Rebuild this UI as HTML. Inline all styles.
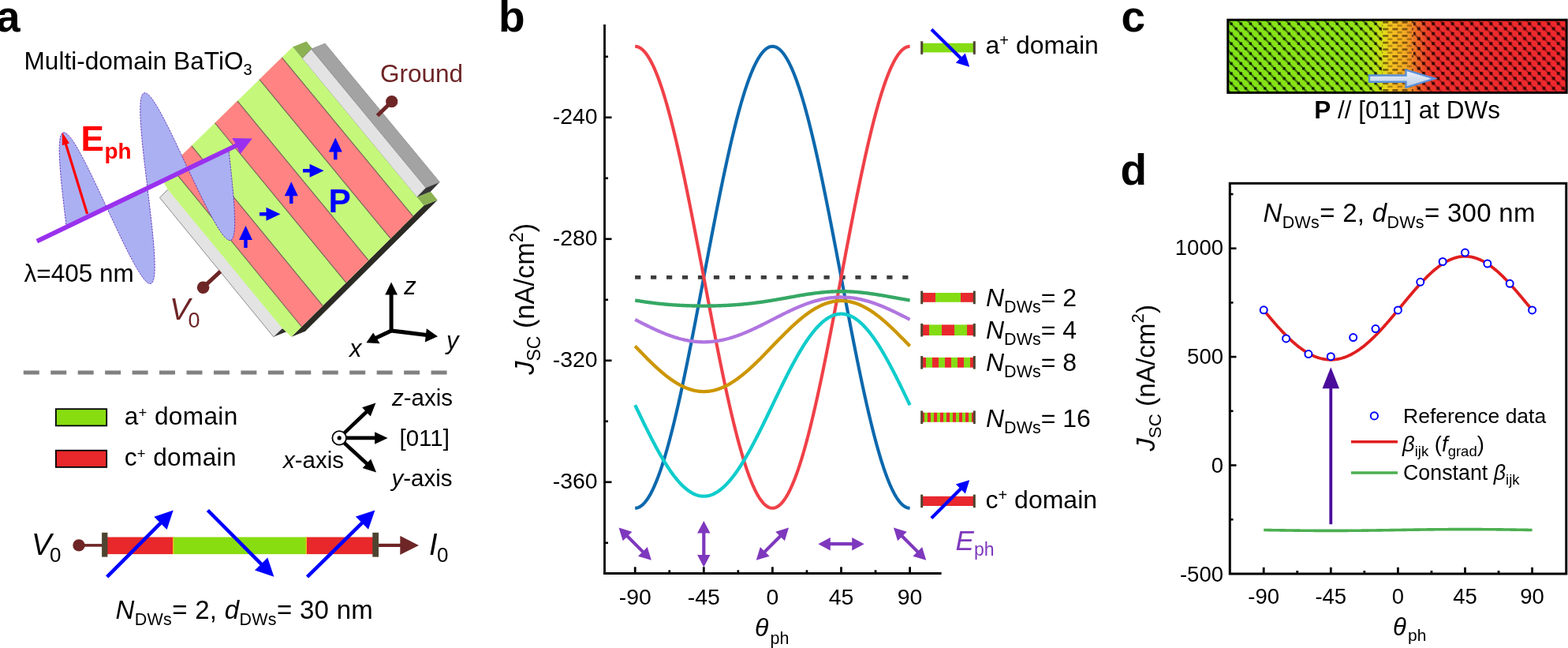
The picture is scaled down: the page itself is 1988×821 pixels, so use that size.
<!DOCTYPE html>
<html><head><meta charset="utf-8"><title>Figure</title>
<style>html,body{margin:0;padding:0;background:#fff;overflow:hidden;width:1988px;height:821px;} svg{display:block;}</style>
</head><body>
<svg width="1988" height="821" viewBox="0 0 1988 821" font-family="'Liberation Sans', Arial, Helvetica, sans-serif">
<rect x="0" y="0" width="1988" height="821" fill="#fff"/>
<text x="-4.90" y="39.80" font-size="55" fill="#000" text-anchor="start" font-weight="bold" font-style="normal" >a</text>
<text x="30.50" y="87.80" font-size="31.6" fill="#000" text-anchor="start" font-weight="normal" font-style="normal" >Multi-domain BaTiO<tspan font-size='20' dy='7'>3</tspan></text>
<polygon points="369.50,426.80 537.20,260.40 554.70,253.40 387.00,419.80" fill="#2b2a24" />
<polygon points="371.00,59.50 383.13,74.17 400.63,67.17 388.50,52.50" fill="#8bb152" />
<polygon points="528.39,249.75 537.20,260.40 554.70,253.40 545.89,242.75" fill="#8bb152" />
<polygon points="528.39,249.75 539.89,237.75 557.39,230.75 545.89,242.75" fill="#353535" />
<polygon points="394.63,62.17 539.89,237.75 557.39,230.75 412.13,55.17" fill="#a3a3a3" stroke="#8a8a8a" stroke-width="0.8"/>
<polygon points="383.13,74.17 528.39,249.75 539.89,237.75 394.63,62.17" fill="#e3e3e3" stroke="#8a8a8a" stroke-width="0.8"/>
<polygon points="357.30,416.80 346.80,426.80 364.30,419.80 374.80,409.80" fill="#2e2e2e" />
<polygon points="218.90,234.30 363.30,410.80 357.30,416.80 346.80,426.80 202.40,250.30 212.90,240.30" fill="#e3e3e3" />
<polyline points="357.30,416.80 346.80,426.80 202.40,250.30 212.90,240.30" fill="none" stroke="#8a8a8a" stroke-width="1"/>
<defs><clipPath id="slabclip"><polygon points="203.00,223.50 371.00,59.50 537.20,260.40 369.50,426.80 358.20,416.20 212.90,240.30"/></clipPath></defs>
<polygon points="203.00,223.50 371.00,59.50 537.20,260.40 369.50,426.80 358.20,416.20 212.90,240.30" fill="#c5f87a" />
<polygon points="392.40,426.17 419.23,399.55 232.83,172.45 205.95,198.69" fill="#ff8383" clip-path="url(#slabclip)"/>
<polygon points="448.74,370.22 477.25,341.93 290.96,115.75 262.40,143.63" fill="#ff8383" clip-path="url(#slabclip)"/>
<polygon points="505.08,314.26 533.59,285.97 347.42,60.69 318.86,88.57" fill="#ff8383" clip-path="url(#slabclip)"/>
<line x1="382.41" y1="413.99" x2="215.94" y2="210.87" stroke="#4a4a4a" stroke-width="1.1" stroke-opacity="0.75" clip-path="url(#slabclip)"/>
<line x1="409.24" y1="387.36" x2="242.82" y2="184.63" stroke="#4a4a4a" stroke-width="1.1" stroke-opacity="0.75" clip-path="url(#slabclip)"/>
<line x1="438.76" y1="358.08" x2="272.38" y2="155.77" stroke="#4a4a4a" stroke-width="1.1" stroke-opacity="0.75" clip-path="url(#slabclip)"/>
<line x1="467.27" y1="329.79" x2="300.94" y2="127.89" stroke="#4a4a4a" stroke-width="1.1" stroke-opacity="0.75" clip-path="url(#slabclip)"/>
<line x1="495.11" y1="302.17" x2="328.83" y2="100.66" stroke="#4a4a4a" stroke-width="1.1" stroke-opacity="0.75" clip-path="url(#slabclip)"/>
<line x1="523.62" y1="273.88" x2="357.39" y2="72.78" stroke="#4a4a4a" stroke-width="1.1" stroke-opacity="0.75" clip-path="url(#slabclip)"/>
<line x1="478.5" y1="146.5" x2="496.7" y2="128.7" stroke="#6e2526" stroke-width="5"/>
<circle cx="496.7" cy="128.7" r="7.6" fill="#6e2526"/>
<line x1="279.5" y1="343.8" x2="257.6" y2="364.2" stroke="#6e2526" stroke-width="5"/>
<circle cx="257.6" cy="364.2" r="7.8" fill="#6e2526"/>
<text x="482.00" y="103.80" font-size="31.5" fill="#6e2526" text-anchor="start" font-weight="normal" font-style="normal" >Ground</text>
<text x="215" y="405.1" font-size="39" fill="#6e2526" font-style="italic">V</text>
<text x="238.5" y="415.2" font-size="27" fill="#6e2526">0</text>
<polygon points="313.70,313.90 313.70,304.00 320.00,304.00 311.50,286.00 303.00,304.00 309.30,304.00 309.30,313.90" fill="#0000ff" />
<polygon points="371.50,258.10 371.50,248.20 377.80,248.20 369.30,230.20 360.80,248.20 367.10,248.20 367.10,258.10" fill="#0000ff" />
<polygon points="427.50,202.30 427.50,192.40 433.80,192.40 425.30,174.40 416.80,192.40 423.10,192.40 423.10,202.30" fill="#0000ff" />
<polygon points="329.00,273.50 337.50,273.50 337.50,279.80 355.50,271.30 337.50,262.80 337.50,269.10 329.00,269.10" fill="#0000ff" />
<polygon points="384.10,218.50 392.60,218.50 392.60,224.80 410.60,216.30 392.60,207.80 392.60,214.10 384.10,214.10" fill="#0000ff" />
<text x="416.50" y="268.80" font-size="42.5" fill="#0000ff" text-anchor="start" font-weight="bold" font-style="normal" >P</text>
<polygon points="84.27,288.28 83.54,282.23 82.82,276.19 82.11,270.18 81.41,264.22 80.73,258.32 80.07,252.49 79.43,246.76 78.83,241.13 78.25,235.63 77.72,230.25 77.23,225.03 76.78,219.97 76.38,215.08 76.03,210.37 75.74,205.87 75.51,201.57 75.34,197.49 75.23,193.64 75.19,190.04 75.22,186.67 75.32,183.57 75.50,180.73 75.75,178.16 76.08,175.86 76.48,173.85 76.97,172.12 77.54,170.68 78.19,169.53 78.92,168.68 79.74,168.12 80.64,167.86 81.62,167.89 82.68,168.22 83.83,168.84 85.05,169.75 86.36,170.94 87.74,172.41 89.21,174.17 90.75,176.19 92.36,178.47 94.04,181.01 95.80,183.80 97.62,186.83 99.50,190.08 101.45,193.56 103.45,197.25 105.51,201.13 107.63,205.20 109.79,209.44 112.00,213.85 114.24,218.40 116.53,223.08 118.85,227.89 121.20,232.80 123.57,237.81 125.97,242.89 128.38,248.03 130.81,253.22 133.24,258.44 135.68,263.67" fill="#abb0f2" stroke="#5a2db5" stroke-width="0.9" stroke-dasharray="2.5 1.2"/>
<polygon points="135.68,263.67 138.12,268.91 140.56,274.13 142.99,279.31 145.40,284.46 147.80,289.54 150.17,294.54 152.52,299.45 154.84,304.26 157.12,308.95 159.37,313.50 161.58,317.90 163.74,322.15 165.85,326.22 167.92,330.10 169.92,333.78 171.87,337.26 173.75,340.52 175.57,343.55 177.33,346.33 179.01,348.87 180.62,351.16 182.16,353.18 183.62,354.93 185.01,356.40 186.32,357.60 187.54,358.51 188.69,359.12 189.75,359.45 190.73,359.48 191.63,359.22 192.45,358.66 193.18,357.81 193.83,356.66 194.40,355.22 194.89,353.50 195.29,351.48 195.62,349.19 195.87,346.62 196.05,343.77 196.15,340.67 196.18,337.31 196.14,333.70 196.03,329.85 195.86,325.78 195.63,321.48 195.34,316.97 194.99,312.27 194.59,307.38 194.14,302.31 193.65,297.09 193.11,291.72 192.54,286.21 191.94,280.58 191.30,274.85 190.64,269.03 189.96,263.12 189.26,257.16 188.55,251.15 187.82,245.11 187.10,239.06" fill="#abb0f2" stroke="#5a2db5" stroke-width="0.9" stroke-dasharray="2.5 1.2"/>
<polygon points="187.10,239.06 186.36,232.95 185.62,226.86 184.90,220.81 184.18,214.79 183.49,208.84 182.81,202.97 182.16,197.19 181.54,191.52 180.96,185.96 180.41,180.55 179.91,175.28 179.45,170.17 179.04,165.24 178.68,160.50 178.38,155.96 178.14,151.63 177.95,147.52 177.84,143.64 177.79,140.00 177.81,136.62 177.91,133.49 178.08,130.62 178.32,128.03 178.65,125.72 179.05,123.69 179.53,121.95 180.10,120.50 180.75,119.35 181.48,118.49 182.30,117.93 183.19,117.67 184.18,117.71 185.24,118.04 186.39,118.67 187.62,119.59 188.93,120.80 190.32,122.29 191.79,124.06 193.33,126.10 194.95,128.41 196.64,130.98 198.40,133.79 200.23,136.85 202.13,140.14 204.08,143.65 206.10,147.38 208.17,151.30 210.30,155.41 212.47,159.69 214.69,164.14 216.95,168.74 219.25,173.47 221.58,178.32 223.94,183.28 226.33,188.33 228.74,193.46 231.17,198.65 233.61,203.89 236.06,209.16 238.51,214.45" fill="#abb0f2" stroke="#5a2db5" stroke-width="0.9" stroke-dasharray="2.5 1.2"/>
<polygon points="238.51,214.45 240.87,219.38 243.22,224.30 245.56,229.18 247.89,234.03 250.20,238.82 252.50,243.53 254.77,248.16 257.01,252.68 259.22,257.10 261.39,261.38 263.53,265.53 265.62,269.52 267.66,273.35 269.66,277.01 271.60,280.47 273.49,283.74 275.32,286.80 277.09,289.65 278.80,292.26 280.44,294.64 282.01,296.78 283.51,298.68 284.94,300.31 286.30,301.68 287.58,302.79 288.79,303.63 289.92,304.19 290.97,304.48 291.94,304.49 292.84,304.22 293.66,303.67 294.40,302.84 295.06,301.73 295.64,300.35 296.15,298.69 296.58,296.76 296.94,294.57 297.22,292.11 297.43,289.40 297.57,286.44 297.65,283.24 297.66,279.80 297.60,276.14 297.48,272.26 297.31,268.17 297.08,263.88 296.80,259.41 296.47,254.76 296.09,249.94 295.67,244.98 295.21,239.87 294.71,234.63 294.18,229.29 293.63,223.84 293.05,218.31 292.45,212.70 291.83,207.03 291.20,201.32 290.57,195.59 289.93,189.83" fill="#abb0f2" stroke="#5a2db5" stroke-width="0.9" stroke-dasharray="2.5 1.2"/>
<polygon points="112.13,270.53 85.03,182.32 88.04,181.40 78.80,167.50 78.96,184.19 81.97,183.26 109.07,271.47" fill="#ff0000" />
<text x="102.50" y="190.90" font-size="44" fill="#ff0000" text-anchor="start" font-weight="bold" font-style="normal" >E</text>
<text x="132.50" y="201.20" font-size="28" fill="#ff0000" text-anchor="start" font-weight="bold" font-style="normal" >ph</text>
<polygon points="48.1,308.2 45.6,302.9 298.5,181.7 294.3,175.1 319.9,175.5 304.5,195.3 300.8,187.1" fill="#9a30ee"/>
<text x="30.50" y="356.60" font-size="31.5" fill="#000" text-anchor="start" font-weight="normal" font-style="normal" >&#955;=405 nm</text>
<line x1="496.1" y1="419" x2="496.1" y2="372" stroke="#000" stroke-width="5"/>
<polygon points="496.1,357.5 504,373.5 488.2,373.5" fill="#000"/>
<line x1="496.1" y1="418.9" x2="541" y2="424.5" stroke="#000" stroke-width="5"/>
<polygon points="555,426.2 538.8,433.5 540.8,416.3" fill="#000"/>
<line x1="496.1" y1="418.9" x2="476" y2="428.5" stroke="#000" stroke-width="5"/>
<polygon points="464.4,434.3 473.2,421.4 481.6,435.2" fill="#000"/>
<text x="512.2" y="372.5" font-size="31" font-style="italic">z</text>
<text x="566" y="442.3" font-size="31" font-style="italic">y</text>
<text x="443" y="451.8" font-size="31" font-style="italic">x</text>
<line x1="29.8" y1="472" x2="568" y2="472" stroke="#808080" stroke-width="4.9" stroke-dasharray="20 14.45"/>
<rect x="70.9" y="518.2" width="64.3" height="21.2" fill="#88dd11" stroke="#000" stroke-width="1.8"/>
<rect x="70.9" y="570.7" width="64.3" height="21.2" fill="#e8282a" stroke="#000" stroke-width="1.8"/>
<text x="157.70" y="538.10" font-size="31.6" fill="#000" text-anchor="start" font-weight="normal" font-style="normal" letter-spacing="0.35">a<tspan font-size='18.5' dy='-9.5'>+</tspan><tspan dy='9.5'> domain</tspan></text>
<text x="157.70" y="590.20" font-size="31.6" fill="#000" text-anchor="start" font-weight="normal" font-style="normal" letter-spacing="0.35">c<tspan font-size='18.5' dy='-9.5'>+</tspan><tspan dy='9.5'> domain</tspan></text>
<circle cx="430.2" cy="554.9" r="8.8" fill="#fff" stroke="#000" stroke-width="1.8"/>
<circle cx="430.2" cy="554.9" r="2.6" fill="#000"/>
<polygon points="438.09,550.27 466.04,523.64 469.80,527.59 476.40,510.60 459.11,516.37 462.87,520.31 434.91,546.93" fill="#000" />
<polygon points="438.50,557.20 475.10,557.20 475.10,562.65 491.60,554.90 475.10,547.15 475.10,552.60 438.50,552.60" fill="#000" />
<polygon points="434.95,562.90 463.38,588.95 459.70,592.97 477.10,598.40 470.17,581.54 466.49,585.56 438.05,559.50" fill="#000" />
<text x="497" y="514" font-size="29.5"><tspan font-style="italic">z</tspan>-axis</text>
<text x="506.50" y="564.80" font-size="29.5" fill="#000" text-anchor="start" font-weight="normal" font-style="normal" >[011]</text>
<text x="496.5" y="615.5" font-size="29.5"><tspan font-style="italic">y</tspan>-axis</text>
<text x="359" y="592.8" font-size="29.5"><tspan font-style="italic">x</tspan>-axis</text>
<line x1="100" y1="690.9" x2="131" y2="690.9" stroke="#6e2526" stroke-width="3.6"/>
<circle cx="100" cy="690.9" r="7.7" fill="#6e2526"/>
<line x1="478" y1="690.9" x2="510" y2="690.9" stroke="#6e2526" stroke-width="4.2"/>
<polygon points="531,690.9 507.3,678.9 507.3,702.9" fill="#6e2526"/>
<rect x="135.6" y="680.5" width="83.6" height="21.6" fill="#e8282a"/>
<rect x="219.2" y="680.5" width="169.4" height="21.6" fill="#88dd11"/>
<rect x="388.6" y="680.5" width="84.5" height="21.6" fill="#e8282a"/>
<rect x="219" y="680.5" width="1.4" height="21.6" fill="#e8c020"/>
<rect x="387.6" y="680.5" width="1.4" height="21.6" fill="#e8c020"/>
<rect x="129.1" y="674.8" width="7.3" height="30.8" fill="#4d4430"/>
<rect x="472.3" y="674.8" width="7.7" height="30.8" fill="#4d4430"/>
<polygon points="137.33,732.42 205.09,664.42 211.61,670.91 219.70,646.50 195.32,654.68 201.84,661.17 134.07,729.18" fill="#0000ff" />
<polygon points="261.77,648.12 329.54,716.13 323.02,722.62 347.40,730.80 339.31,706.39 332.79,712.88 265.03,644.88" fill="#0000ff" />
<polygon points="391.11,732.44 460.60,664.25 467.04,670.82 475.40,646.50 450.93,654.40 457.37,660.97 387.89,729.16" fill="#0000ff" />
<text x="40" y="703" font-size="38" font-style="italic">V</text>
<text x="63" y="712" font-size="26">0</text>
<text x="544" y="703" font-size="38" font-style="italic">I</text>
<text x="554" y="712" font-size="26">0</text>
<text x="146.5" y="783.5" font-size="33" letter-spacing="0.3"><tspan font-style="italic">N</tspan><tspan font-size="21.5" dy="8">DWs</tspan><tspan dy="-8">= 2, </tspan><tspan font-style="italic">d</tspan><tspan font-size="21.5" dy="8">DWs</tspan><tspan dy="-8">= 30 nm</tspan></text>
<text x="632.00" y="39.80" font-size="55" fill="#000" text-anchor="start" font-weight="bold" font-style="normal" >b</text>
<path d="M805.20,643.80 L806.17,643.76 L807.14,643.62 L808.10,643.40 L809.07,643.09 L810.04,642.69 L811.01,642.20 L811.97,641.62 L812.94,640.95 L813.91,640.20 L814.88,639.36 L815.85,638.43 L816.81,637.41 L817.78,636.30 L818.75,635.11 L819.72,633.83 L820.68,632.47 L821.65,631.02 L822.62,629.48 L823.59,627.86 L824.56,626.16 L825.52,624.37 L826.49,622.50 L827.46,620.55 L828.43,618.51 L829.39,616.40 L830.36,614.20 L831.33,611.92 L832.30,609.56 L833.27,607.13 L834.23,604.61 L835.20,602.02 L836.17,599.35 L837.14,596.61 L838.10,593.79 L839.07,590.90 L840.04,587.94 L841.01,584.90 L841.98,581.79 L842.94,578.62 L843.91,575.37 L844.88,572.05 L845.85,568.67 L846.81,565.22 L847.78,561.71 L848.75,558.13 L849.72,554.49 L850.69,550.78 L851.65,547.02 L852.62,543.20 L853.59,539.32 L854.56,535.38 L855.52,531.38 L856.49,527.33 L857.46,523.23 L858.43,519.07 L859.40,514.86 L860.36,510.61 L861.33,506.30 L862.30,501.95 L863.27,497.55 L864.23,493.11 L865.20,488.62 L866.17,484.09 L867.14,479.52 L868.11,474.92 L869.07,470.27 L870.04,465.59 L871.01,460.87 L871.98,456.12 L872.94,451.34 L873.91,446.53 L874.88,441.69 L875.85,436.82 L876.82,431.92 L877.78,427.00 L878.75,422.06 L879.72,417.10 L880.69,412.11 L881.65,407.11 L882.62,402.09 L883.59,397.06 L884.56,392.01 L885.53,386.95 L886.49,381.87 L887.46,376.79 L888.43,371.70 L889.40,366.61 L890.36,361.51 L891.33,356.40 L892.30,351.30 L893.27,346.20 L894.24,341.09 L895.20,335.99 L896.17,330.90 L897.14,325.81 L898.11,320.73 L899.07,315.65 L900.04,310.59 L901.01,305.54 L901.98,300.51 L902.95,295.49 L903.91,290.49 L904.88,285.50 L905.85,280.54 L906.82,275.60 L907.78,270.68 L908.75,265.78 L909.72,260.91 L910.69,256.07 L911.66,251.26 L912.62,246.48 L913.59,241.73 L914.56,237.01 L915.53,232.33 L916.49,227.68 L917.46,223.08 L918.43,218.51 L919.40,213.98 L920.37,209.49 L921.33,205.05 L922.30,200.65 L923.27,196.30 L924.24,191.99 L925.20,187.74 L926.17,183.53 L927.14,179.37 L928.11,175.27 L929.08,171.22 L930.04,167.22 L931.01,163.28 L931.98,159.40 L932.95,155.58 L933.91,151.82 L934.88,148.11 L935.85,144.47 L936.82,140.89 L937.79,137.38 L938.75,133.93 L939.72,130.55 L940.69,127.23 L941.66,123.98 L942.62,120.81 L943.59,117.70 L944.56,114.66 L945.53,111.70 L946.50,108.81 L947.46,105.99 L948.43,103.25 L949.40,100.58 L950.37,97.99 L951.33,95.47 L952.30,93.04 L953.27,90.68 L954.24,88.40 L955.21,86.20 L956.17,84.09 L957.14,82.05 L958.11,80.10 L959.08,78.23 L960.04,76.44 L961.01,74.74 L961.98,73.12 L962.95,71.58 L963.92,70.13 L964.88,68.77 L965.85,67.49 L966.82,66.30 L967.79,65.19 L968.75,64.17 L969.72,63.24 L970.69,62.40 L971.66,61.65 L972.63,60.98 L973.59,60.40 L974.56,59.91 L975.53,59.51 L976.50,59.20 L977.46,58.98 L978.43,58.84 L979.40,58.80 L980.37,58.84 L981.34,58.98 L982.30,59.20 L983.27,59.51 L984.24,59.91 L985.21,60.40 L986.17,60.98 L987.14,61.65 L988.11,62.40 L989.08,63.24 L990.05,64.17 L991.01,65.19 L991.98,66.30 L992.95,67.49 L993.92,68.77 L994.88,70.13 L995.85,71.58 L996.82,73.12 L997.79,74.74 L998.76,76.44 L999.72,78.23 L1000.69,80.10 L1001.66,82.05 L1002.63,84.09 L1003.59,86.20 L1004.56,88.40 L1005.53,90.68 L1006.50,93.04 L1007.47,95.47 L1008.43,97.99 L1009.40,100.58 L1010.37,103.25 L1011.34,105.99 L1012.30,108.81 L1013.27,111.70 L1014.24,114.66 L1015.21,117.70 L1016.18,120.81 L1017.14,123.98 L1018.11,127.23 L1019.08,130.55 L1020.05,133.93 L1021.01,137.38 L1021.98,140.89 L1022.95,144.47 L1023.92,148.11 L1024.89,151.82 L1025.85,155.58 L1026.82,159.40 L1027.79,163.28 L1028.76,167.22 L1029.72,171.22 L1030.69,175.27 L1031.66,179.37 L1032.63,183.53 L1033.60,187.74 L1034.56,191.99 L1035.53,196.30 L1036.50,200.65 L1037.47,205.05 L1038.43,209.49 L1039.40,213.98 L1040.37,218.51 L1041.34,223.08 L1042.31,227.68 L1043.27,232.33 L1044.24,237.01 L1045.21,241.73 L1046.18,246.48 L1047.14,251.26 L1048.11,256.07 L1049.08,260.91 L1050.05,265.78 L1051.02,270.68 L1051.98,275.60 L1052.95,280.54 L1053.92,285.50 L1054.89,290.49 L1055.85,295.49 L1056.82,300.51 L1057.79,305.54 L1058.76,310.59 L1059.73,315.65 L1060.69,320.73 L1061.66,325.81 L1062.63,330.90 L1063.60,335.99 L1064.56,341.09 L1065.53,346.20 L1066.50,351.30 L1067.47,356.40 L1068.44,361.51 L1069.40,366.61 L1070.37,371.70 L1071.34,376.79 L1072.31,381.87 L1073.27,386.95 L1074.24,392.01 L1075.21,397.06 L1076.18,402.09 L1077.15,407.11 L1078.11,412.11 L1079.08,417.10 L1080.05,422.06 L1081.02,427.00 L1081.98,431.92 L1082.95,436.82 L1083.92,441.69 L1084.89,446.53 L1085.86,451.34 L1086.82,456.12 L1087.79,460.87 L1088.76,465.59 L1089.73,470.27 L1090.69,474.92 L1091.66,479.52 L1092.63,484.09 L1093.60,488.62 L1094.57,493.11 L1095.53,497.55 L1096.50,501.95 L1097.47,506.30 L1098.44,510.61 L1099.40,514.86 L1100.37,519.07 L1101.34,523.23 L1102.31,527.33 L1103.28,531.38 L1104.24,535.38 L1105.21,539.32 L1106.18,543.20 L1107.15,547.02 L1108.11,550.78 L1109.08,554.49 L1110.05,558.13 L1111.02,561.71 L1111.99,565.22 L1112.95,568.67 L1113.92,572.05 L1114.89,575.37 L1115.86,578.62 L1116.82,581.79 L1117.79,584.90 L1118.76,587.94 L1119.73,590.90 L1120.70,593.79 L1121.66,596.61 L1122.63,599.35 L1123.60,602.02 L1124.57,604.61 L1125.53,607.13 L1126.50,609.56 L1127.47,611.92 L1128.44,614.20 L1129.41,616.40 L1130.37,618.51 L1131.34,620.55 L1132.31,622.50 L1133.28,624.37 L1134.24,626.16 L1135.21,627.86 L1136.18,629.48 L1137.15,631.02 L1138.12,632.47 L1139.08,633.83 L1140.05,635.11 L1141.02,636.30 L1141.99,637.41 L1142.95,638.43 L1143.92,639.36 L1144.89,640.20 L1145.86,640.95 L1146.83,641.62 L1147.79,642.20 L1148.76,642.69 L1149.73,643.09 L1150.70,643.40 L1151.66,643.62 L1152.63,643.76 L1153.60,643.80" fill="none" stroke="#0c68ad" stroke-width="4.1" stroke-linejoin="round" stroke-linecap="butt"/>
<line x1="805.1" y1="351.4" x2="1152" y2="351.4" stroke="#3c3c3c" stroke-width="4.6" stroke-dasharray="7.2 12.75"/>
<path d="M805.20,58.80 L806.17,58.84 L807.14,58.98 L808.10,59.20 L809.07,59.51 L810.04,59.91 L811.01,60.40 L811.97,60.98 L812.94,61.65 L813.91,62.40 L814.88,63.24 L815.85,64.17 L816.81,65.19 L817.78,66.30 L818.75,67.49 L819.72,68.77 L820.68,70.13 L821.65,71.58 L822.62,73.12 L823.59,74.74 L824.56,76.44 L825.52,78.23 L826.49,80.10 L827.46,82.05 L828.43,84.09 L829.39,86.20 L830.36,88.40 L831.33,90.68 L832.30,93.04 L833.27,95.47 L834.23,97.99 L835.20,100.58 L836.17,103.25 L837.14,105.99 L838.10,108.81 L839.07,111.70 L840.04,114.66 L841.01,117.70 L841.98,120.81 L842.94,123.98 L843.91,127.23 L844.88,130.55 L845.85,133.93 L846.81,137.38 L847.78,140.89 L848.75,144.47 L849.72,148.11 L850.69,151.82 L851.65,155.58 L852.62,159.40 L853.59,163.28 L854.56,167.22 L855.52,171.22 L856.49,175.27 L857.46,179.37 L858.43,183.53 L859.40,187.74 L860.36,191.99 L861.33,196.30 L862.30,200.65 L863.27,205.05 L864.23,209.49 L865.20,213.98 L866.17,218.51 L867.14,223.08 L868.11,227.68 L869.07,232.33 L870.04,237.01 L871.01,241.73 L871.98,246.48 L872.94,251.26 L873.91,256.07 L874.88,260.91 L875.85,265.78 L876.82,270.68 L877.78,275.60 L878.75,280.54 L879.72,285.50 L880.69,290.49 L881.65,295.49 L882.62,300.51 L883.59,305.54 L884.56,310.59 L885.53,315.65 L886.49,320.73 L887.46,325.81 L888.43,330.90 L889.40,335.99 L890.36,341.09 L891.33,346.20 L892.30,351.30 L893.27,356.40 L894.24,361.51 L895.20,366.61 L896.17,371.70 L897.14,376.79 L898.11,381.87 L899.07,386.95 L900.04,392.01 L901.01,397.06 L901.98,402.09 L902.95,407.11 L903.91,412.11 L904.88,417.10 L905.85,422.06 L906.82,427.00 L907.78,431.92 L908.75,436.82 L909.72,441.69 L910.69,446.53 L911.66,451.34 L912.62,456.12 L913.59,460.87 L914.56,465.59 L915.53,470.27 L916.49,474.92 L917.46,479.52 L918.43,484.09 L919.40,488.62 L920.37,493.11 L921.33,497.55 L922.30,501.95 L923.27,506.30 L924.24,510.61 L925.20,514.86 L926.17,519.07 L927.14,523.23 L928.11,527.33 L929.08,531.38 L930.04,535.38 L931.01,539.32 L931.98,543.20 L932.95,547.02 L933.91,550.78 L934.88,554.49 L935.85,558.13 L936.82,561.71 L937.79,565.22 L938.75,568.67 L939.72,572.05 L940.69,575.37 L941.66,578.62 L942.62,581.79 L943.59,584.90 L944.56,587.94 L945.53,590.90 L946.50,593.79 L947.46,596.61 L948.43,599.35 L949.40,602.02 L950.37,604.61 L951.33,607.13 L952.30,609.56 L953.27,611.92 L954.24,614.20 L955.21,616.40 L956.17,618.51 L957.14,620.55 L958.11,622.50 L959.08,624.37 L960.04,626.16 L961.01,627.86 L961.98,629.48 L962.95,631.02 L963.92,632.47 L964.88,633.83 L965.85,635.11 L966.82,636.30 L967.79,637.41 L968.75,638.43 L969.72,639.36 L970.69,640.20 L971.66,640.95 L972.63,641.62 L973.59,642.20 L974.56,642.69 L975.53,643.09 L976.50,643.40 L977.46,643.62 L978.43,643.76 L979.40,643.80 L980.37,643.76 L981.34,643.62 L982.30,643.40 L983.27,643.09 L984.24,642.69 L985.21,642.20 L986.17,641.62 L987.14,640.95 L988.11,640.20 L989.08,639.36 L990.05,638.43 L991.01,637.41 L991.98,636.30 L992.95,635.11 L993.92,633.83 L994.88,632.47 L995.85,631.02 L996.82,629.48 L997.79,627.86 L998.76,626.16 L999.72,624.37 L1000.69,622.50 L1001.66,620.55 L1002.63,618.51 L1003.59,616.40 L1004.56,614.20 L1005.53,611.92 L1006.50,609.56 L1007.47,607.13 L1008.43,604.61 L1009.40,602.02 L1010.37,599.35 L1011.34,596.61 L1012.30,593.79 L1013.27,590.90 L1014.24,587.94 L1015.21,584.90 L1016.18,581.79 L1017.14,578.62 L1018.11,575.37 L1019.08,572.05 L1020.05,568.67 L1021.01,565.22 L1021.98,561.71 L1022.95,558.13 L1023.92,554.49 L1024.89,550.78 L1025.85,547.02 L1026.82,543.20 L1027.79,539.32 L1028.76,535.38 L1029.72,531.38 L1030.69,527.33 L1031.66,523.23 L1032.63,519.07 L1033.60,514.86 L1034.56,510.61 L1035.53,506.30 L1036.50,501.95 L1037.47,497.55 L1038.43,493.11 L1039.40,488.62 L1040.37,484.09 L1041.34,479.52 L1042.31,474.92 L1043.27,470.27 L1044.24,465.59 L1045.21,460.87 L1046.18,456.12 L1047.14,451.34 L1048.11,446.53 L1049.08,441.69 L1050.05,436.82 L1051.02,431.92 L1051.98,427.00 L1052.95,422.06 L1053.92,417.10 L1054.89,412.11 L1055.85,407.11 L1056.82,402.09 L1057.79,397.06 L1058.76,392.01 L1059.73,386.95 L1060.69,381.87 L1061.66,376.79 L1062.63,371.70 L1063.60,366.61 L1064.56,361.51 L1065.53,356.40 L1066.50,351.30 L1067.47,346.20 L1068.44,341.09 L1069.40,335.99 L1070.37,330.90 L1071.34,325.81 L1072.31,320.73 L1073.27,315.65 L1074.24,310.59 L1075.21,305.54 L1076.18,300.51 L1077.15,295.49 L1078.11,290.49 L1079.08,285.50 L1080.05,280.54 L1081.02,275.60 L1081.98,270.68 L1082.95,265.78 L1083.92,260.91 L1084.89,256.07 L1085.86,251.26 L1086.82,246.48 L1087.79,241.73 L1088.76,237.01 L1089.73,232.33 L1090.69,227.68 L1091.66,223.08 L1092.63,218.51 L1093.60,213.98 L1094.57,209.49 L1095.53,205.05 L1096.50,200.65 L1097.47,196.30 L1098.44,191.99 L1099.40,187.74 L1100.37,183.53 L1101.34,179.37 L1102.31,175.27 L1103.28,171.22 L1104.24,167.22 L1105.21,163.28 L1106.18,159.40 L1107.15,155.58 L1108.11,151.82 L1109.08,148.11 L1110.05,144.47 L1111.02,140.89 L1111.99,137.38 L1112.95,133.93 L1113.92,130.55 L1114.89,127.23 L1115.86,123.98 L1116.82,120.81 L1117.79,117.70 L1118.76,114.66 L1119.73,111.70 L1120.70,108.81 L1121.66,105.99 L1122.63,103.25 L1123.60,100.58 L1124.57,97.99 L1125.53,95.47 L1126.50,93.04 L1127.47,90.68 L1128.44,88.40 L1129.41,86.20 L1130.37,84.09 L1131.34,82.05 L1132.31,80.10 L1133.28,78.23 L1134.24,76.44 L1135.21,74.74 L1136.18,73.12 L1137.15,71.58 L1138.12,70.13 L1139.08,68.77 L1140.05,67.49 L1141.02,66.30 L1141.99,65.19 L1142.95,64.17 L1143.92,63.24 L1144.89,62.40 L1145.86,61.65 L1146.83,60.98 L1147.79,60.40 L1148.76,59.91 L1149.73,59.51 L1150.70,59.20 L1151.66,58.98 L1152.63,58.84 L1153.60,58.80" fill="none" stroke="#f04048" stroke-width="4.1" stroke-linejoin="round" stroke-linecap="butt"/>
<path d="M805.20,380.50 L806.17,380.66 L807.14,380.82 L808.10,380.98 L809.07,381.13 L810.04,381.29 L811.01,381.44 L811.97,381.59 L812.94,381.74 L813.91,381.89 L814.88,382.03 L815.85,382.18 L816.81,382.32 L817.78,382.46 L818.75,382.60 L819.72,382.74 L820.68,382.88 L821.65,383.01 L822.62,383.14 L823.59,383.27 L824.56,383.40 L825.52,383.53 L826.49,383.65 L827.46,383.77 L828.43,383.89 L829.39,384.01 L830.36,384.13 L831.33,384.24 L832.30,384.36 L833.27,384.47 L834.23,384.57 L835.20,384.68 L836.17,384.79 L837.14,384.89 L838.10,384.99 L839.07,385.09 L840.04,385.18 L841.01,385.28 L841.98,385.37 L842.94,385.46 L843.91,385.55 L844.88,385.63 L845.85,385.72 L846.81,385.80 L847.78,385.88 L848.75,385.96 L849.72,386.03 L850.69,386.11 L851.65,386.18 L852.62,386.25 L853.59,386.32 L854.56,386.38 L855.52,386.45 L856.49,386.51 L857.46,386.57 L858.43,386.63 L859.40,386.68 L860.36,386.74 L861.33,386.79 L862.30,386.84 L863.27,386.89 L864.23,386.94 L865.20,386.99 L866.17,387.03 L867.14,387.07 L868.11,387.11 L869.07,387.15 L870.04,387.19 L871.01,387.22 L871.98,387.26 L872.94,387.29 L873.91,387.32 L874.88,387.35 L875.85,387.38 L876.82,387.40 L877.78,387.43 L878.75,387.45 L879.72,387.47 L880.69,387.49 L881.65,387.51 L882.62,387.52 L883.59,387.54 L884.56,387.55 L885.53,387.56 L886.49,387.57 L887.46,387.58 L888.43,387.59 L889.40,387.59 L890.36,387.60 L891.33,387.60 L892.30,387.60 L893.27,387.60 L894.24,387.60 L895.20,387.59 L896.17,387.59 L897.14,387.58 L898.11,387.57 L899.07,387.56 L900.04,387.55 L901.01,387.54 L901.98,387.52 L902.95,387.51 L903.91,387.49 L904.88,387.47 L905.85,387.45 L906.82,387.43 L907.78,387.40 L908.75,387.38 L909.72,387.35 L910.69,387.32 L911.66,387.29 L912.62,387.26 L913.59,387.22 L914.56,387.19 L915.53,387.15 L916.49,387.11 L917.46,387.07 L918.43,387.03 L919.40,386.99 L920.37,386.94 L921.33,386.89 L922.30,386.84 L923.27,386.79 L924.24,386.74 L925.20,386.68 L926.17,386.63 L927.14,386.57 L928.11,386.51 L929.08,386.45 L930.04,386.38 L931.01,386.32 L931.98,386.25 L932.95,386.18 L933.91,386.11 L934.88,386.03 L935.85,385.96 L936.82,385.88 L937.79,385.80 L938.75,385.72 L939.72,385.63 L940.69,385.55 L941.66,385.46 L942.62,385.37 L943.59,385.28 L944.56,385.18 L945.53,385.09 L946.50,384.99 L947.46,384.89 L948.43,384.79 L949.40,384.68 L950.37,384.57 L951.33,384.47 L952.30,384.36 L953.27,384.24 L954.24,384.13 L955.21,384.01 L956.17,383.89 L957.14,383.77 L958.11,383.65 L959.08,383.53 L960.04,383.40 L961.01,383.27 L961.98,383.14 L962.95,383.01 L963.92,382.88 L964.88,382.74 L965.85,382.60 L966.82,382.46 L967.79,382.32 L968.75,382.18 L969.72,382.03 L970.69,381.89 L971.66,381.74 L972.63,381.59 L973.59,381.44 L974.56,381.29 L975.53,381.13 L976.50,380.98 L977.46,380.82 L978.43,380.66 L979.40,380.50 L980.37,380.34 L981.34,380.18 L982.30,380.01 L983.27,379.85 L984.24,379.68 L985.21,379.52 L986.17,379.35 L987.14,379.18 L988.11,379.01 L989.08,378.84 L990.05,378.67 L991.01,378.50 L991.98,378.32 L992.95,378.15 L993.92,377.98 L994.88,377.80 L995.85,377.63 L996.82,377.46 L997.79,377.28 L998.76,377.11 L999.72,376.93 L1000.69,376.76 L1001.66,376.58 L1002.63,376.41 L1003.59,376.24 L1004.56,376.06 L1005.53,375.89 L1006.50,375.72 L1007.47,375.55 L1008.43,375.37 L1009.40,375.20 L1010.37,375.04 L1011.34,374.87 L1012.30,374.70 L1013.27,374.53 L1014.24,374.37 L1015.21,374.20 L1016.18,374.04 L1017.14,373.88 L1018.11,373.72 L1019.08,373.56 L1020.05,373.40 L1021.01,373.25 L1021.98,373.10 L1022.95,372.94 L1023.92,372.80 L1024.89,372.65 L1025.85,372.50 L1026.82,372.36 L1027.79,372.22 L1028.76,372.08 L1029.72,371.95 L1030.69,371.81 L1031.66,371.68 L1032.63,371.55 L1033.60,371.43 L1034.56,371.31 L1035.53,371.19 L1036.50,371.07 L1037.47,370.96 L1038.43,370.85 L1039.40,370.74 L1040.37,370.64 L1041.34,370.53 L1042.31,370.44 L1043.27,370.34 L1044.24,370.25 L1045.21,370.16 L1046.18,370.08 L1047.14,370.00 L1048.11,369.92 L1049.08,369.85 L1050.05,369.78 L1051.02,369.72 L1051.98,369.65 L1052.95,369.60 L1053.92,369.54 L1054.89,369.49 L1055.85,369.45 L1056.82,369.40 L1057.79,369.36 L1058.76,369.33 L1059.73,369.30 L1060.69,369.27 L1061.66,369.25 L1062.63,369.23 L1063.60,369.22 L1064.56,369.21 L1065.53,369.20 L1066.50,369.20 L1067.47,369.20 L1068.44,369.21 L1069.40,369.22 L1070.37,369.23 L1071.34,369.25 L1072.31,369.27 L1073.27,369.30 L1074.24,369.33 L1075.21,369.36 L1076.18,369.40 L1077.15,369.45 L1078.11,369.49 L1079.08,369.54 L1080.05,369.60 L1081.02,369.65 L1081.98,369.72 L1082.95,369.78 L1083.92,369.85 L1084.89,369.92 L1085.86,370.00 L1086.82,370.08 L1087.79,370.16 L1088.76,370.25 L1089.73,370.34 L1090.69,370.44 L1091.66,370.53 L1092.63,370.64 L1093.60,370.74 L1094.57,370.85 L1095.53,370.96 L1096.50,371.07 L1097.47,371.19 L1098.44,371.31 L1099.40,371.43 L1100.37,371.55 L1101.34,371.68 L1102.31,371.81 L1103.28,371.95 L1104.24,372.08 L1105.21,372.22 L1106.18,372.36 L1107.15,372.50 L1108.11,372.65 L1109.08,372.80 L1110.05,372.94 L1111.02,373.10 L1111.99,373.25 L1112.95,373.40 L1113.92,373.56 L1114.89,373.72 L1115.86,373.88 L1116.82,374.04 L1117.79,374.20 L1118.76,374.37 L1119.73,374.53 L1120.70,374.70 L1121.66,374.87 L1122.63,375.04 L1123.60,375.20 L1124.57,375.37 L1125.53,375.55 L1126.50,375.72 L1127.47,375.89 L1128.44,376.06 L1129.41,376.24 L1130.37,376.41 L1131.34,376.58 L1132.31,376.76 L1133.28,376.93 L1134.24,377.11 L1135.21,377.28 L1136.18,377.46 L1137.15,377.63 L1138.12,377.80 L1139.08,377.98 L1140.05,378.15 L1141.02,378.32 L1141.99,378.50 L1142.95,378.67 L1143.92,378.84 L1144.89,379.01 L1145.86,379.18 L1146.83,379.35 L1147.79,379.52 L1148.76,379.68 L1149.73,379.85 L1150.70,380.01 L1151.66,380.18 L1152.63,380.34 L1153.60,380.50" fill="none" stroke="#36a865" stroke-width="4.4" stroke-linejoin="round" stroke-linecap="butt"/>
<path d="M805.20,404.90 L806.17,405.40 L807.14,405.89 L808.10,406.39 L809.07,406.88 L810.04,407.38 L811.01,407.87 L811.97,408.36 L812.94,408.85 L813.91,409.34 L814.88,409.83 L815.85,410.32 L816.81,410.80 L817.78,411.29 L818.75,411.77 L819.72,412.25 L820.68,412.73 L821.65,413.20 L822.62,413.68 L823.59,414.15 L824.56,414.61 L825.52,415.08 L826.49,415.54 L827.46,416.00 L828.43,416.45 L829.39,416.90 L830.36,417.35 L831.33,417.79 L832.30,418.23 L833.27,418.67 L834.23,419.10 L835.20,419.53 L836.17,419.95 L837.14,420.37 L838.10,420.78 L839.07,421.19 L840.04,421.59 L841.01,421.99 L841.98,422.38 L842.94,422.77 L843.91,423.16 L844.88,423.53 L845.85,423.90 L846.81,424.27 L847.78,424.63 L848.75,424.98 L849.72,425.33 L850.69,425.67 L851.65,426.01 L852.62,426.33 L853.59,426.66 L854.56,426.97 L855.52,427.28 L856.49,427.58 L857.46,427.88 L858.43,428.16 L859.40,428.44 L860.36,428.72 L861.33,428.98 L862.30,429.24 L863.27,429.50 L864.23,429.74 L865.20,429.98 L866.17,430.20 L867.14,430.43 L868.11,430.64 L869.07,430.84 L870.04,431.04 L871.01,431.23 L871.98,431.41 L872.94,431.59 L873.91,431.75 L874.88,431.91 L875.85,432.06 L876.82,432.20 L877.78,432.33 L878.75,432.46 L879.72,432.57 L880.69,432.68 L881.65,432.78 L882.62,432.87 L883.59,432.95 L884.56,433.02 L885.53,433.09 L886.49,433.14 L887.46,433.19 L888.43,433.23 L889.40,433.26 L890.36,433.28 L891.33,433.30 L892.30,433.30 L893.27,433.30 L894.24,433.28 L895.20,433.26 L896.17,433.23 L897.14,433.19 L898.11,433.14 L899.07,433.09 L900.04,433.02 L901.01,432.95 L901.98,432.87 L902.95,432.78 L903.91,432.68 L904.88,432.57 L905.85,432.46 L906.82,432.33 L907.78,432.20 L908.75,432.06 L909.72,431.91 L910.69,431.75 L911.66,431.59 L912.62,431.41 L913.59,431.23 L914.56,431.04 L915.53,430.84 L916.49,430.64 L917.46,430.43 L918.43,430.20 L919.40,429.98 L920.37,429.74 L921.33,429.50 L922.30,429.24 L923.27,428.98 L924.24,428.72 L925.20,428.44 L926.17,428.16 L927.14,427.88 L928.11,427.58 L929.08,427.28 L930.04,426.97 L931.01,426.66 L931.98,426.33 L932.95,426.01 L933.91,425.67 L934.88,425.33 L935.85,424.98 L936.82,424.63 L937.79,424.27 L938.75,423.90 L939.72,423.53 L940.69,423.16 L941.66,422.77 L942.62,422.38 L943.59,421.99 L944.56,421.59 L945.53,421.19 L946.50,420.78 L947.46,420.37 L948.43,419.95 L949.40,419.53 L950.37,419.10 L951.33,418.67 L952.30,418.23 L953.27,417.79 L954.24,417.35 L955.21,416.90 L956.17,416.45 L957.14,416.00 L958.11,415.54 L959.08,415.08 L960.04,414.61 L961.01,414.15 L961.98,413.68 L962.95,413.20 L963.92,412.73 L964.88,412.25 L965.85,411.77 L966.82,411.29 L967.79,410.80 L968.75,410.32 L969.72,409.83 L970.69,409.34 L971.66,408.85 L972.63,408.36 L973.59,407.87 L974.56,407.38 L975.53,406.88 L976.50,406.39 L977.46,405.89 L978.43,405.40 L979.40,404.90 L980.37,404.40 L981.34,403.91 L982.30,403.41 L983.27,402.92 L984.24,402.42 L985.21,401.93 L986.17,401.44 L987.14,400.95 L988.11,400.46 L989.08,399.97 L990.05,399.48 L991.01,399.00 L991.98,398.51 L992.95,398.03 L993.92,397.55 L994.88,397.07 L995.85,396.60 L996.82,396.12 L997.79,395.65 L998.76,395.19 L999.72,394.72 L1000.69,394.26 L1001.66,393.80 L1002.63,393.35 L1003.59,392.90 L1004.56,392.45 L1005.53,392.01 L1006.50,391.57 L1007.47,391.13 L1008.43,390.70 L1009.40,390.27 L1010.37,389.85 L1011.34,389.43 L1012.30,389.02 L1013.27,388.61 L1014.24,388.21 L1015.21,387.81 L1016.18,387.42 L1017.14,387.03 L1018.11,386.64 L1019.08,386.27 L1020.05,385.90 L1021.01,385.53 L1021.98,385.17 L1022.95,384.82 L1023.92,384.47 L1024.89,384.13 L1025.85,383.79 L1026.82,383.47 L1027.79,383.14 L1028.76,382.83 L1029.72,382.52 L1030.69,382.22 L1031.66,381.92 L1032.63,381.64 L1033.60,381.36 L1034.56,381.08 L1035.53,380.82 L1036.50,380.56 L1037.47,380.30 L1038.43,380.06 L1039.40,379.82 L1040.37,379.60 L1041.34,379.37 L1042.31,379.16 L1043.27,378.96 L1044.24,378.76 L1045.21,378.57 L1046.18,378.39 L1047.14,378.21 L1048.11,378.05 L1049.08,377.89 L1050.05,377.74 L1051.02,377.60 L1051.98,377.47 L1052.95,377.34 L1053.92,377.23 L1054.89,377.12 L1055.85,377.02 L1056.82,376.93 L1057.79,376.85 L1058.76,376.78 L1059.73,376.71 L1060.69,376.66 L1061.66,376.61 L1062.63,376.57 L1063.60,376.54 L1064.56,376.52 L1065.53,376.50 L1066.50,376.50 L1067.47,376.50 L1068.44,376.52 L1069.40,376.54 L1070.37,376.57 L1071.34,376.61 L1072.31,376.66 L1073.27,376.71 L1074.24,376.78 L1075.21,376.85 L1076.18,376.93 L1077.15,377.02 L1078.11,377.12 L1079.08,377.23 L1080.05,377.34 L1081.02,377.47 L1081.98,377.60 L1082.95,377.74 L1083.92,377.89 L1084.89,378.05 L1085.86,378.21 L1086.82,378.39 L1087.79,378.57 L1088.76,378.76 L1089.73,378.96 L1090.69,379.16 L1091.66,379.37 L1092.63,379.60 L1093.60,379.82 L1094.57,380.06 L1095.53,380.30 L1096.50,380.56 L1097.47,380.82 L1098.44,381.08 L1099.40,381.36 L1100.37,381.64 L1101.34,381.92 L1102.31,382.22 L1103.28,382.52 L1104.24,382.83 L1105.21,383.14 L1106.18,383.47 L1107.15,383.79 L1108.11,384.13 L1109.08,384.47 L1110.05,384.82 L1111.02,385.17 L1111.99,385.53 L1112.95,385.90 L1113.92,386.27 L1114.89,386.64 L1115.86,387.03 L1116.82,387.42 L1117.79,387.81 L1118.76,388.21 L1119.73,388.61 L1120.70,389.02 L1121.66,389.43 L1122.63,389.85 L1123.60,390.27 L1124.57,390.70 L1125.53,391.13 L1126.50,391.57 L1127.47,392.01 L1128.44,392.45 L1129.41,392.90 L1130.37,393.35 L1131.34,393.80 L1132.31,394.26 L1133.28,394.72 L1134.24,395.19 L1135.21,395.65 L1136.18,396.12 L1137.15,396.60 L1138.12,397.07 L1139.08,397.55 L1140.05,398.03 L1141.02,398.51 L1141.99,399.00 L1142.95,399.48 L1143.92,399.97 L1144.89,400.46 L1145.86,400.95 L1146.83,401.44 L1147.79,401.93 L1148.76,402.42 L1149.73,402.92 L1150.70,403.41 L1151.66,403.91 L1152.63,404.40 L1153.60,404.90" fill="none" stroke="#b076e0" stroke-width="4.3" stroke-linejoin="round" stroke-linecap="butt"/>
<path d="M805.20,438.60 L806.17,439.60 L807.14,440.61 L808.10,441.61 L809.07,442.61 L810.04,443.61 L811.01,444.61 L811.97,445.61 L812.94,446.60 L813.91,447.59 L814.88,448.58 L815.85,449.57 L816.81,450.55 L817.78,451.53 L818.75,452.51 L819.72,453.48 L820.68,454.45 L821.65,455.41 L822.62,456.37 L823.59,457.32 L824.56,458.27 L825.52,459.21 L826.49,460.14 L827.46,461.07 L828.43,461.99 L829.39,462.90 L830.36,463.81 L831.33,464.70 L832.30,465.59 L833.27,466.48 L834.23,467.35 L835.20,468.21 L836.17,469.07 L837.14,469.92 L838.10,470.75 L839.07,471.58 L840.04,472.40 L841.01,473.20 L841.98,474.00 L842.94,474.79 L843.91,475.56 L844.88,476.32 L845.85,477.08 L846.81,477.81 L847.78,478.54 L848.75,479.26 L849.72,479.96 L850.69,480.65 L851.65,481.33 L852.62,482.00 L853.59,482.65 L854.56,483.29 L855.52,483.91 L856.49,484.52 L857.46,485.12 L858.43,485.70 L859.40,486.27 L860.36,486.82 L861.33,487.36 L862.30,487.89 L863.27,488.40 L864.23,488.89 L865.20,489.37 L866.17,489.83 L867.14,490.28 L868.11,490.71 L869.07,491.13 L870.04,491.53 L871.01,491.91 L871.98,492.28 L872.94,492.63 L873.91,492.97 L874.88,493.29 L875.85,493.59 L876.82,493.87 L877.78,494.14 L878.75,494.39 L879.72,494.63 L880.69,494.84 L881.65,495.04 L882.62,495.23 L883.59,495.39 L884.56,495.54 L885.53,495.67 L886.49,495.79 L887.46,495.88 L888.43,495.96 L889.40,496.02 L890.36,496.06 L891.33,496.09 L892.30,496.10 L893.27,496.09 L894.24,496.06 L895.20,496.02 L896.17,495.96 L897.14,495.88 L898.11,495.79 L899.07,495.67 L900.04,495.54 L901.01,495.39 L901.98,495.23 L902.95,495.04 L903.91,494.84 L904.88,494.63 L905.85,494.39 L906.82,494.14 L907.78,493.87 L908.75,493.59 L909.72,493.29 L910.69,492.97 L911.66,492.63 L912.62,492.28 L913.59,491.91 L914.56,491.53 L915.53,491.13 L916.49,490.71 L917.46,490.28 L918.43,489.83 L919.40,489.37 L920.37,488.89 L921.33,488.40 L922.30,487.89 L923.27,487.36 L924.24,486.82 L925.20,486.27 L926.17,485.70 L927.14,485.12 L928.11,484.52 L929.08,483.91 L930.04,483.29 L931.01,482.65 L931.98,482.00 L932.95,481.33 L933.91,480.65 L934.88,479.96 L935.85,479.26 L936.82,478.54 L937.79,477.81 L938.75,477.08 L939.72,476.32 L940.69,475.56 L941.66,474.79 L942.62,474.00 L943.59,473.20 L944.56,472.40 L945.53,471.58 L946.50,470.75 L947.46,469.92 L948.43,469.07 L949.40,468.21 L950.37,467.35 L951.33,466.48 L952.30,465.59 L953.27,464.70 L954.24,463.81 L955.21,462.90 L956.17,461.99 L957.14,461.07 L958.11,460.14 L959.08,459.21 L960.04,458.27 L961.01,457.32 L961.98,456.37 L962.95,455.41 L963.92,454.45 L964.88,453.48 L965.85,452.51 L966.82,451.53 L967.79,450.55 L968.75,449.57 L969.72,448.58 L970.69,447.59 L971.66,446.60 L972.63,445.61 L973.59,444.61 L974.56,443.61 L975.53,442.61 L976.50,441.61 L977.46,440.61 L978.43,439.60 L979.40,438.60 L980.37,437.60 L981.34,436.59 L982.30,435.59 L983.27,434.59 L984.24,433.59 L985.21,432.59 L986.17,431.59 L987.14,430.60 L988.11,429.61 L989.08,428.62 L990.05,427.63 L991.01,426.65 L991.98,425.67 L992.95,424.69 L993.92,423.72 L994.88,422.75 L995.85,421.79 L996.82,420.83 L997.79,419.88 L998.76,418.93 L999.72,417.99 L1000.69,417.06 L1001.66,416.13 L1002.63,415.21 L1003.59,414.30 L1004.56,413.39 L1005.53,412.50 L1006.50,411.61 L1007.47,410.72 L1008.43,409.85 L1009.40,408.99 L1010.37,408.13 L1011.34,407.28 L1012.30,406.45 L1013.27,405.62 L1014.24,404.80 L1015.21,404.00 L1016.18,403.20 L1017.14,402.41 L1018.11,401.64 L1019.08,400.88 L1020.05,400.12 L1021.01,399.39 L1021.98,398.66 L1022.95,397.94 L1023.92,397.24 L1024.89,396.55 L1025.85,395.87 L1026.82,395.20 L1027.79,394.55 L1028.76,393.91 L1029.72,393.29 L1030.69,392.68 L1031.66,392.08 L1032.63,391.50 L1033.60,390.93 L1034.56,390.38 L1035.53,389.84 L1036.50,389.31 L1037.47,388.80 L1038.43,388.31 L1039.40,387.83 L1040.37,387.37 L1041.34,386.92 L1042.31,386.49 L1043.27,386.07 L1044.24,385.67 L1045.21,385.29 L1046.18,384.92 L1047.14,384.57 L1048.11,384.23 L1049.08,383.91 L1050.05,383.61 L1051.02,383.33 L1051.98,383.06 L1052.95,382.81 L1053.92,382.57 L1054.89,382.36 L1055.85,382.16 L1056.82,381.97 L1057.79,381.81 L1058.76,381.66 L1059.73,381.53 L1060.69,381.41 L1061.66,381.32 L1062.63,381.24 L1063.60,381.18 L1064.56,381.14 L1065.53,381.11 L1066.50,381.10 L1067.47,381.11 L1068.44,381.14 L1069.40,381.18 L1070.37,381.24 L1071.34,381.32 L1072.31,381.41 L1073.27,381.53 L1074.24,381.66 L1075.21,381.81 L1076.18,381.97 L1077.15,382.16 L1078.11,382.36 L1079.08,382.57 L1080.05,382.81 L1081.02,383.06 L1081.98,383.33 L1082.95,383.61 L1083.92,383.91 L1084.89,384.23 L1085.86,384.57 L1086.82,384.92 L1087.79,385.29 L1088.76,385.67 L1089.73,386.07 L1090.69,386.49 L1091.66,386.92 L1092.63,387.37 L1093.60,387.83 L1094.57,388.31 L1095.53,388.80 L1096.50,389.31 L1097.47,389.84 L1098.44,390.38 L1099.40,390.93 L1100.37,391.50 L1101.34,392.08 L1102.31,392.68 L1103.28,393.29 L1104.24,393.91 L1105.21,394.55 L1106.18,395.20 L1107.15,395.87 L1108.11,396.55 L1109.08,397.24 L1110.05,397.94 L1111.02,398.66 L1111.99,399.39 L1112.95,400.12 L1113.92,400.88 L1114.89,401.64 L1115.86,402.41 L1116.82,403.20 L1117.79,404.00 L1118.76,404.80 L1119.73,405.62 L1120.70,406.45 L1121.66,407.28 L1122.63,408.13 L1123.60,408.99 L1124.57,409.85 L1125.53,410.72 L1126.50,411.61 L1127.47,412.50 L1128.44,413.39 L1129.41,414.30 L1130.37,415.21 L1131.34,416.13 L1132.31,417.06 L1133.28,417.99 L1134.24,418.93 L1135.21,419.88 L1136.18,420.83 L1137.15,421.79 L1138.12,422.75 L1139.08,423.72 L1140.05,424.69 L1141.02,425.67 L1141.99,426.65 L1142.95,427.63 L1143.92,428.62 L1144.89,429.61 L1145.86,430.60 L1146.83,431.59 L1147.79,432.59 L1148.76,433.59 L1149.73,434.59 L1150.70,435.59 L1151.66,436.59 L1152.63,437.60 L1153.60,438.60" fill="none" stroke="#cc9600" stroke-width="4.3" stroke-linejoin="round" stroke-linecap="butt"/>
<path d="M805.20,513.20 L806.17,515.22 L807.14,517.23 L808.10,519.24 L809.07,521.26 L810.04,523.27 L811.01,525.27 L811.97,527.28 L812.94,529.27 L813.91,531.27 L814.88,533.26 L815.85,535.24 L816.81,537.21 L817.78,539.18 L818.75,541.14 L819.72,543.09 L820.68,545.04 L821.65,546.97 L822.62,548.89 L823.59,550.80 L824.56,552.70 L825.52,554.59 L826.49,556.47 L827.46,558.33 L828.43,560.18 L829.39,562.01 L830.36,563.83 L831.33,565.64 L832.30,567.42 L833.27,569.20 L834.23,570.95 L835.20,572.69 L836.17,574.41 L837.14,576.11 L838.10,577.79 L839.07,579.45 L840.04,581.09 L841.01,582.71 L841.98,584.31 L842.94,585.89 L843.91,587.44 L844.88,588.97 L845.85,590.48 L846.81,591.97 L847.78,593.43 L848.75,594.87 L849.72,596.28 L850.69,597.67 L851.65,599.03 L852.62,600.37 L853.59,601.68 L854.56,602.96 L855.52,604.22 L856.49,605.44 L857.46,606.64 L858.43,607.81 L859.40,608.95 L860.36,610.07 L861.33,611.15 L862.30,612.20 L863.27,613.23 L864.23,614.22 L865.20,615.18 L866.17,616.11 L867.14,617.01 L868.11,617.88 L869.07,618.71 L870.04,619.52 L871.01,620.29 L871.98,621.03 L872.94,621.73 L873.91,622.41 L874.88,623.05 L875.85,623.65 L876.82,624.23 L877.78,624.76 L878.75,625.27 L879.72,625.74 L880.69,626.18 L881.65,626.58 L882.62,626.95 L883.59,627.28 L884.56,627.58 L885.53,627.84 L886.49,628.07 L887.46,628.26 L888.43,628.42 L889.40,628.54 L890.36,628.63 L891.33,628.68 L892.30,628.70 L893.27,628.68 L894.24,628.63 L895.20,628.54 L896.17,628.42 L897.14,628.26 L898.11,628.07 L899.07,627.84 L900.04,627.58 L901.01,627.28 L901.98,626.95 L902.95,626.58 L903.91,626.18 L904.88,625.74 L905.85,625.27 L906.82,624.76 L907.78,624.23 L908.75,623.65 L909.72,623.05 L910.69,622.41 L911.66,621.73 L912.62,621.03 L913.59,620.29 L914.56,619.52 L915.53,618.71 L916.49,617.88 L917.46,617.01 L918.43,616.11 L919.40,615.18 L920.37,614.22 L921.33,613.23 L922.30,612.20 L923.27,611.15 L924.24,610.07 L925.20,608.95 L926.17,607.81 L927.14,606.64 L928.11,605.44 L929.08,604.22 L930.04,602.96 L931.01,601.68 L931.98,600.37 L932.95,599.03 L933.91,597.67 L934.88,596.28 L935.85,594.87 L936.82,593.43 L937.79,591.97 L938.75,590.48 L939.72,588.97 L940.69,587.44 L941.66,585.89 L942.62,584.31 L943.59,582.71 L944.56,581.09 L945.53,579.45 L946.50,577.79 L947.46,576.11 L948.43,574.41 L949.40,572.69 L950.37,570.95 L951.33,569.20 L952.30,567.42 L953.27,565.64 L954.24,563.83 L955.21,562.01 L956.17,560.18 L957.14,558.33 L958.11,556.47 L959.08,554.59 L960.04,552.70 L961.01,550.80 L961.98,548.89 L962.95,546.97 L963.92,545.04 L964.88,543.09 L965.85,541.14 L966.82,539.18 L967.79,537.21 L968.75,535.24 L969.72,533.26 L970.69,531.27 L971.66,529.27 L972.63,527.28 L973.59,525.27 L974.56,523.27 L975.53,521.26 L976.50,519.24 L977.46,517.23 L978.43,515.22 L979.40,513.20 L980.37,511.18 L981.34,509.17 L982.30,507.16 L983.27,505.14 L984.24,503.13 L985.21,501.13 L986.17,499.12 L987.14,497.13 L988.11,495.13 L989.08,493.14 L990.05,491.16 L991.01,489.19 L991.98,487.22 L992.95,485.26 L993.92,483.31 L994.88,481.36 L995.85,479.43 L996.82,477.51 L997.79,475.60 L998.76,473.70 L999.72,471.81 L1000.69,469.93 L1001.66,468.07 L1002.63,466.22 L1003.59,464.39 L1004.56,462.57 L1005.53,460.76 L1006.50,458.98 L1007.47,457.20 L1008.43,455.45 L1009.40,453.71 L1010.37,451.99 L1011.34,450.29 L1012.30,448.61 L1013.27,446.95 L1014.24,445.31 L1015.21,443.69 L1016.18,442.09 L1017.14,440.51 L1018.11,438.96 L1019.08,437.43 L1020.05,435.92 L1021.01,434.43 L1021.98,432.97 L1022.95,431.53 L1023.92,430.12 L1024.89,428.73 L1025.85,427.37 L1026.82,426.03 L1027.79,424.72 L1028.76,423.44 L1029.72,422.18 L1030.69,420.96 L1031.66,419.76 L1032.63,418.59 L1033.60,417.45 L1034.56,416.33 L1035.53,415.25 L1036.50,414.20 L1037.47,413.17 L1038.43,412.18 L1039.40,411.22 L1040.37,410.29 L1041.34,409.39 L1042.31,408.52 L1043.27,407.69 L1044.24,406.88 L1045.21,406.11 L1046.18,405.37 L1047.14,404.67 L1048.11,403.99 L1049.08,403.35 L1050.05,402.75 L1051.02,402.17 L1051.98,401.64 L1052.95,401.13 L1053.92,400.66 L1054.89,400.22 L1055.85,399.82 L1056.82,399.45 L1057.79,399.12 L1058.76,398.82 L1059.73,398.56 L1060.69,398.33 L1061.66,398.14 L1062.63,397.98 L1063.60,397.86 L1064.56,397.77 L1065.53,397.72 L1066.50,397.70 L1067.47,397.72 L1068.44,397.77 L1069.40,397.86 L1070.37,397.98 L1071.34,398.14 L1072.31,398.33 L1073.27,398.56 L1074.24,398.82 L1075.21,399.12 L1076.18,399.45 L1077.15,399.82 L1078.11,400.22 L1079.08,400.66 L1080.05,401.13 L1081.02,401.64 L1081.98,402.17 L1082.95,402.75 L1083.92,403.35 L1084.89,403.99 L1085.86,404.67 L1086.82,405.37 L1087.79,406.11 L1088.76,406.88 L1089.73,407.69 L1090.69,408.52 L1091.66,409.39 L1092.63,410.29 L1093.60,411.22 L1094.57,412.18 L1095.53,413.17 L1096.50,414.20 L1097.47,415.25 L1098.44,416.33 L1099.40,417.45 L1100.37,418.59 L1101.34,419.76 L1102.31,420.96 L1103.28,422.18 L1104.24,423.44 L1105.21,424.72 L1106.18,426.03 L1107.15,427.37 L1108.11,428.73 L1109.08,430.12 L1110.05,431.53 L1111.02,432.97 L1111.99,434.43 L1112.95,435.92 L1113.92,437.43 L1114.89,438.96 L1115.86,440.51 L1116.82,442.09 L1117.79,443.69 L1118.76,445.31 L1119.73,446.95 L1120.70,448.61 L1121.66,450.29 L1122.63,451.99 L1123.60,453.71 L1124.57,455.45 L1125.53,457.20 L1126.50,458.98 L1127.47,460.76 L1128.44,462.57 L1129.41,464.39 L1130.37,466.22 L1131.34,468.07 L1132.31,469.93 L1133.28,471.81 L1134.24,473.70 L1135.21,475.60 L1136.18,477.51 L1137.15,479.43 L1138.12,481.36 L1139.08,483.31 L1140.05,485.26 L1141.02,487.22 L1141.99,489.19 L1142.95,491.16 L1143.92,493.14 L1144.89,495.13 L1145.86,497.13 L1146.83,499.12 L1147.79,501.13 L1148.76,503.13 L1149.73,505.14 L1150.70,507.16 L1151.66,509.17 L1152.63,511.18 L1153.60,513.20" fill="none" stroke="#10cccc" stroke-width="4.3" stroke-linejoin="round" stroke-linecap="butt"/>
<line x1="766.5" y1="31" x2="766.5" y2="728" stroke="#000" stroke-width="2.8"/>
<line x1="765.1" y1="726.6" x2="1193.6" y2="726.6" stroke="#000" stroke-width="3"/>
<line x1="766" y1="148.80" x2="775.5" y2="148.80" stroke="#000" stroke-width="2.6"/>
<text x="757.50" y="157.10" font-size="28.4" fill="#000" text-anchor="end" font-weight="normal" font-style="normal" >-240</text>
<line x1="766" y1="302.80" x2="775.5" y2="302.80" stroke="#000" stroke-width="2.6"/>
<text x="757.50" y="311.10" font-size="28.4" fill="#000" text-anchor="end" font-weight="normal" font-style="normal" >-280</text>
<line x1="766" y1="456.80" x2="775.5" y2="456.80" stroke="#000" stroke-width="2.6"/>
<text x="757.50" y="465.10" font-size="28.4" fill="#000" text-anchor="end" font-weight="normal" font-style="normal" >-320</text>
<line x1="766" y1="610.80" x2="775.5" y2="610.80" stroke="#000" stroke-width="2.6"/>
<text x="757.50" y="619.10" font-size="28.4" fill="#000" text-anchor="end" font-weight="normal" font-style="normal" >-360</text>
<line x1="766" y1="71.80" x2="771" y2="71.80" stroke="#000" stroke-width="2.6"/>
<line x1="766" y1="225.80" x2="771" y2="225.80" stroke="#000" stroke-width="2.6"/>
<line x1="766" y1="379.80" x2="771" y2="379.80" stroke="#000" stroke-width="2.6"/>
<line x1="766" y1="533.80" x2="771" y2="533.80" stroke="#000" stroke-width="2.6"/>
<line x1="766" y1="687.80" x2="771" y2="687.80" stroke="#000" stroke-width="2.6"/>
<line x1="805.20" y1="726" x2="805.20" y2="718.3" stroke="#000" stroke-width="2.8"/>
<text x="805.20" y="765.80" font-size="28.4" fill="#000" text-anchor="middle" font-weight="normal" font-style="normal" >-90</text>
<line x1="892.30" y1="726" x2="892.30" y2="718.3" stroke="#000" stroke-width="2.8"/>
<text x="892.30" y="765.80" font-size="28.4" fill="#000" text-anchor="middle" font-weight="normal" font-style="normal" >-45</text>
<line x1="979.40" y1="726" x2="979.40" y2="718.3" stroke="#000" stroke-width="2.8"/>
<text x="979.40" y="765.80" font-size="28.4" fill="#000" text-anchor="middle" font-weight="normal" font-style="normal" >0</text>
<line x1="1066.50" y1="726" x2="1066.50" y2="718.3" stroke="#000" stroke-width="2.8"/>
<text x="1066.50" y="765.80" font-size="28.4" fill="#000" text-anchor="middle" font-weight="normal" font-style="normal" >45</text>
<line x1="1153.60" y1="726" x2="1153.60" y2="718.3" stroke="#000" stroke-width="2.8"/>
<text x="1153.60" y="765.80" font-size="28.4" fill="#000" text-anchor="middle" font-weight="normal" font-style="normal" >90</text>
<line x1="848.75" y1="726" x2="848.75" y2="722.3" stroke="#000" stroke-width="2.8"/>
<line x1="935.85" y1="726" x2="935.85" y2="722.3" stroke="#000" stroke-width="2.8"/>
<line x1="1022.95" y1="726" x2="1022.95" y2="722.3" stroke="#000" stroke-width="2.8"/>
<line x1="1110.05" y1="726" x2="1110.05" y2="722.3" stroke="#000" stroke-width="2.8"/>
<text x="957" y="806.3" font-size="32" font-style="italic">&#952;</text>
<text x="976.5" y="815.6" font-size="21.5">ph</text>
<g transform="translate(676.5,474.8) rotate(-90)"><text x="0" y="0" font-size="34.4"><tspan font-style="italic">J</tspan><tspan font-size="23" dy="8.5">SC</tspan><tspan dy="-8.5"> (nA/cm</tspan><tspan font-size="23" dy="-14">2</tspan><tspan dy="14">)</tspan></text></g>
<polygon points="825.85,709.85 809.05,704.72 813.40,700.37 794.03,681.00 789.68,685.35 784.55,668.55 801.35,673.68 797.00,678.03 816.37,697.40 820.72,693.05" fill="#7e38bd" />
<polygon points="892.30,718.40 884.05,702.90 890.20,702.90 890.20,675.50 884.05,675.50 892.30,660.00 900.55,675.50 894.40,675.50 894.40,702.90 900.55,702.90" fill="#7e38bd" />
<polygon points="1000.05,668.55 994.92,685.35 990.57,681.00 971.20,700.37 975.55,704.72 958.75,709.85 963.88,693.05 968.23,697.40 987.60,678.03 983.25,673.68" fill="#7e38bd" />
<polygon points="1095.70,689.20 1080.20,697.45 1080.20,691.30 1052.80,691.30 1052.80,697.45 1037.30,689.20 1052.80,680.95 1052.80,687.10 1080.20,687.10 1080.20,680.95" fill="#7e38bd" />
<polygon points="1174.25,709.85 1157.45,704.72 1161.80,700.37 1142.43,681.00 1138.08,685.35 1132.95,668.55 1149.75,673.68 1145.40,678.03 1164.77,697.40 1169.12,693.05" fill="#7e38bd" />
<rect x="1170.00" y="54.70" width="64.00" height="11.70" fill="#84dc14"/>
<rect x="1167.2" y="52.25" width="3" height="16.6" fill="#4d4430"/>
<rect x="1233.8" y="52.25" width="3" height="16.6" fill="#4d4430"/>
<rect x="1170.00" y="371.00" width="16.00" height="11.80" fill="#e8282e"/>
<rect x="1186.00" y="371.00" width="32.00" height="11.80" fill="#84dc14"/>
<rect x="1218.00" y="371.00" width="16.00" height="11.80" fill="#e8282e"/>
<rect x="1167.2" y="368.60" width="3" height="16.6" fill="#4d4430"/>
<rect x="1233.8" y="368.60" width="3" height="16.6" fill="#4d4430"/>
<rect x="1170.00" y="411.40" width="8.00" height="13.60" fill="#e8282e"/>
<rect x="1178.00" y="411.40" width="16.00" height="13.60" fill="#84dc14"/>
<rect x="1194.00" y="411.40" width="16.00" height="13.60" fill="#e8282e"/>
<rect x="1210.00" y="411.40" width="16.00" height="13.60" fill="#84dc14"/>
<rect x="1226.00" y="411.40" width="8.00" height="13.60" fill="#e8282e"/>
<rect x="1167.2" y="409.90" width="3" height="16.6" fill="#4d4430"/>
<rect x="1233.8" y="409.90" width="3" height="16.6" fill="#4d4430"/>
<rect x="1170.00" y="452.90" width="4.00" height="12.80" fill="#e8282e"/>
<rect x="1174.00" y="452.90" width="8.00" height="12.80" fill="#84dc14"/>
<rect x="1182.00" y="452.90" width="8.00" height="12.80" fill="#e8282e"/>
<rect x="1190.00" y="452.90" width="8.00" height="12.80" fill="#84dc14"/>
<rect x="1198.00" y="452.90" width="8.00" height="12.80" fill="#e8282e"/>
<rect x="1206.00" y="452.90" width="8.00" height="12.80" fill="#84dc14"/>
<rect x="1214.00" y="452.90" width="8.00" height="12.80" fill="#e8282e"/>
<rect x="1222.00" y="452.90" width="8.00" height="12.80" fill="#84dc14"/>
<rect x="1230.00" y="452.90" width="4.00" height="12.80" fill="#e8282e"/>
<rect x="1167.2" y="451.00" width="3" height="16.6" fill="#4d4430"/>
<rect x="1233.8" y="451.00" width="3" height="16.6" fill="#4d4430"/>
<rect x="1170.00" y="522.70" width="2.00" height="12.10" fill="#e8282e"/>
<rect x="1172.00" y="522.70" width="4.00" height="12.10" fill="#84dc14"/>
<rect x="1176.00" y="522.70" width="4.00" height="12.10" fill="#e8282e"/>
<rect x="1180.00" y="522.70" width="4.00" height="12.10" fill="#84dc14"/>
<rect x="1184.00" y="522.70" width="4.00" height="12.10" fill="#e8282e"/>
<rect x="1188.00" y="522.70" width="4.00" height="12.10" fill="#84dc14"/>
<rect x="1192.00" y="522.70" width="4.00" height="12.10" fill="#e8282e"/>
<rect x="1196.00" y="522.70" width="4.00" height="12.10" fill="#84dc14"/>
<rect x="1200.00" y="522.70" width="4.00" height="12.10" fill="#e8282e"/>
<rect x="1204.00" y="522.70" width="4.00" height="12.10" fill="#84dc14"/>
<rect x="1208.00" y="522.70" width="4.00" height="12.10" fill="#e8282e"/>
<rect x="1212.00" y="522.70" width="4.00" height="12.10" fill="#84dc14"/>
<rect x="1216.00" y="522.70" width="4.00" height="12.10" fill="#e8282e"/>
<rect x="1220.00" y="522.70" width="4.00" height="12.10" fill="#84dc14"/>
<rect x="1224.00" y="522.70" width="4.00" height="12.10" fill="#e8282e"/>
<rect x="1228.00" y="522.70" width="4.00" height="12.10" fill="#84dc14"/>
<rect x="1232.00" y="522.70" width="2.00" height="12.10" fill="#e8282e"/>
<rect x="1167.2" y="520.45" width="3" height="16.6" fill="#4d4430"/>
<rect x="1233.8" y="520.45" width="3" height="16.6" fill="#4d4430"/>
<rect x="1170.00" y="628.80" width="64.00" height="12.20" fill="#e8282e"/>
<rect x="1167.2" y="626.60" width="3" height="16.6" fill="#4d4430"/>
<rect x="1233.8" y="626.60" width="3" height="16.6" fill="#4d4430"/>
<polygon points="1179.52,38.69 1216.34,75.05 1211.84,79.61 1229.20,84.80 1223.79,67.51 1219.29,72.06 1182.48,35.71" fill="#0000ff" />
<polygon points="1182.38,657.98 1219.37,621.00 1223.90,625.52 1229.20,608.20 1211.88,613.50 1216.40,618.03 1179.42,655.02" fill="#0000ff" />
<text x="1249.50" y="67.80" font-size="32" fill="#000" text-anchor="start" font-weight="normal" font-style="normal" >a<tspan font-size='20' dy='-10'>+</tspan><tspan dy='10'> domain</tspan></text>
<text x="1249.50" y="643.80" font-size="32" fill="#000" text-anchor="start" font-weight="normal" font-style="normal" >c<tspan font-size='20' dy='-10'>+</tspan><tspan dy='10'> domain</tspan></text>
<text x="1250" y="387.9" font-size="32"><tspan font-style="italic">N</tspan><tspan font-size="21.5" dy="8">DWs</tspan><tspan dy="-8">= 2</tspan></text>
<text x="1250" y="429.3" font-size="32"><tspan font-style="italic">N</tspan><tspan font-size="21.5" dy="8">DWs</tspan><tspan dy="-8">= 4</tspan></text>
<text x="1250" y="470.3" font-size="32"><tspan font-style="italic">N</tspan><tspan font-size="21.5" dy="8">DWs</tspan><tspan dy="-8">= 8</tspan></text>
<text x="1250" y="540.6" font-size="32"><tspan font-style="italic">N</tspan><tspan font-size="21.5" dy="8">DWs</tspan><tspan dy="-8">= 16</tspan></text>
<text x="1211.5" y="696.9" font-size="35" fill="#7e38bd" font-style="italic">E</text>
<text x="1235" y="704.3" font-size="23" fill="#7e38bd">ph</text>
<text x="1421.50" y="40.00" font-size="55" fill="#000" text-anchor="start" font-weight="bold" font-style="normal" >c</text>
<defs>
<linearGradient id="cgrad" x1="1558" y1="0" x2="1985" y2="0" gradientUnits="userSpaceOnUse">
<stop offset="0" stop-color="#80e418"/>
<stop offset="0.38" stop-color="#90e416"/>
<stop offset="0.43" stop-color="#b0e414"/>
<stop offset="0.46" stop-color="#e0dc18"/>
<stop offset="0.48" stop-color="#f4c420"/>
<stop offset="0.53" stop-color="#f4a422"/>
<stop offset="0.555" stop-color="#ee7028"/>
<stop offset="0.585" stop-color="#ee4428"/>
<stop offset="0.62" stop-color="#ee2c2c"/>
<stop offset="1" stop-color="#f0282e"/>
</linearGradient>
<pattern id="clat" x="1558" y="27" width="12.2" height="12.6" patternUnits="userSpaceOnUse">
<path d="M-3.1,-3.3 L15.3,15.9 M-9.2,2.9 L9.2,22.2 M3.0,-9.6 L21.4,9.7" stroke="#0c2000" stroke-width="2.2" stroke-opacity="0.6"/>
<rect x="1.4" y="1.4" width="3.4" height="3.4" fill="#061000" fill-opacity="0.9"/>
<rect x="7.5" y="7.7" width="3.4" height="3.4" fill="#061000" fill-opacity="0.9"/>
</pattern>
<pattern id="clatr" x="1558" y="27" width="12.2" height="12.6" patternUnits="userSpaceOnUse">
<path d="M-3.1,-3.3 L15.3,15.9 M-9.2,2.9 L9.2,22.2 M3.0,-9.6 L21.4,9.7" stroke="#300000" stroke-width="1.6" stroke-opacity="0.45"/>
<rect x="1.0" y="1.0" width="4" height="4" fill="#1a0000" fill-opacity="0.8"/>
<rect x="7.1" y="7.3" width="4" height="4" fill="#1a0000" fill-opacity="0.8"/>
</pattern>
<pattern id="chor" x="1558" y="27" width="12.2" height="8.6" patternUnits="userSpaceOnUse">
<rect x="0" y="0" width="7" height="2.6" fill="#2a1400" fill-opacity="0.6"/>
<rect x="6" y="4.3" width="7" height="2.2" fill="#2a1400" fill-opacity="0.4"/>
</pattern>
<clipPath id="cclipL"><rect x="1558" y="26" width="194" height="91"/></clipPath>
<clipPath id="cclipM"><rect x="1752" y="26" width="40" height="91"/></clipPath>
<clipPath id="cclipR"><rect x="1792" y="26" width="193" height="91"/></clipPath>
</defs>
<rect x="1558" y="26" width="427" height="91" fill="url(#cgrad)"/>
<rect x="1558" y="26" width="427" height="91" fill="url(#clat)" clip-path="url(#cclipL)"/>
<rect x="1558" y="26" width="427" height="91" fill="url(#chor)" clip-path="url(#cclipM)"/>
<rect x="1558" y="26" width="427" height="91" fill="url(#clatr)" clip-path="url(#cclipR)"/>
<rect x="1556.8" y="25.2" width="429.4" height="92.2" fill="none" stroke="#000" stroke-width="3"/>
<defs><linearGradient id="cag" x1="0" y1="0" x2="0" y2="1"><stop offset="0" stop-color="#eef3fa"/><stop offset="1" stop-color="#b9cde6"/></linearGradient></defs>
<polygon points="1736,95.5 1782.5,95.5 1782.5,88.5 1819,99.6 1782.5,110.8 1782.5,103.7 1736,103.7" fill="url(#cag)" stroke="#5a8fd8" stroke-width="2.4" stroke-linejoin="miter"/>
<text x="1666.3" y="149.8" font-size="31.5"><tspan font-weight="bold">P</tspan> // [011] at DWs</text>
<text x="1420.50" y="233.70" font-size="55" fill="#000" text-anchor="start" font-weight="bold" font-style="normal" >d</text>
<rect x="1559.3" y="232.3" width="426.5" height="494.7" fill="none" stroke="#000" stroke-width="3"/>
<line x1="1559" y1="314.70" x2="1567.5" y2="314.70" stroke="#000" stroke-width="2.6"/>
<text x="1551.00" y="323.20" font-size="27.5" fill="#000" text-anchor="end" font-weight="normal" font-style="normal" >1000</text>
<line x1="1559" y1="452.10" x2="1567.5" y2="452.10" stroke="#000" stroke-width="2.6"/>
<text x="1551.00" y="460.60" font-size="27.5" fill="#000" text-anchor="end" font-weight="normal" font-style="normal" >500</text>
<line x1="1559" y1="589.50" x2="1567.5" y2="589.50" stroke="#000" stroke-width="2.6"/>
<text x="1551.00" y="599.20" font-size="27.5" fill="#000" text-anchor="end" font-weight="normal" font-style="normal" >0</text>
<text x="1551.00" y="736.60" font-size="27.5" fill="#000" text-anchor="end" font-weight="normal" font-style="normal" >-500</text>
<line x1="1559" y1="246.00" x2="1563.5" y2="246.00" stroke="#000" stroke-width="2.6"/>
<line x1="1559" y1="383.40" x2="1563.5" y2="383.40" stroke="#000" stroke-width="2.6"/>
<line x1="1559" y1="520.80" x2="1563.5" y2="520.80" stroke="#000" stroke-width="2.6"/>
<line x1="1559" y1="658.20" x2="1563.5" y2="658.20" stroke="#000" stroke-width="2.6"/>
<line x1="1602.20" y1="727" x2="1602.20" y2="718.8" stroke="#000" stroke-width="2.8"/>
<text x="1602.20" y="765.30" font-size="27.5" fill="#000" text-anchor="middle" font-weight="normal" font-style="normal" >-90</text>
<line x1="1687.30" y1="727" x2="1687.30" y2="718.8" stroke="#000" stroke-width="2.8"/>
<text x="1687.30" y="765.30" font-size="27.5" fill="#000" text-anchor="middle" font-weight="normal" font-style="normal" >-45</text>
<line x1="1772.40" y1="727" x2="1772.40" y2="718.8" stroke="#000" stroke-width="2.8"/>
<text x="1772.40" y="765.30" font-size="27.5" fill="#000" text-anchor="middle" font-weight="normal" font-style="normal" >0</text>
<line x1="1857.50" y1="727" x2="1857.50" y2="718.8" stroke="#000" stroke-width="2.8"/>
<text x="1857.50" y="765.30" font-size="27.5" fill="#000" text-anchor="middle" font-weight="normal" font-style="normal" >45</text>
<line x1="1942.60" y1="727" x2="1942.60" y2="718.8" stroke="#000" stroke-width="2.8"/>
<text x="1942.60" y="765.30" font-size="27.5" fill="#000" text-anchor="middle" font-weight="normal" font-style="normal" >90</text>
<line x1="1644.75" y1="727" x2="1644.75" y2="723" stroke="#000" stroke-width="2.8"/>
<line x1="1729.85" y1="727" x2="1729.85" y2="723" stroke="#000" stroke-width="2.8"/>
<line x1="1814.95" y1="727" x2="1814.95" y2="723" stroke="#000" stroke-width="2.8"/>
<line x1="1900.05" y1="727" x2="1900.05" y2="723" stroke="#000" stroke-width="2.8"/>
<text x="1766" y="804.6" font-size="31" font-style="italic">&#952;</text>
<text x="1785" y="812" font-size="21">ph</text>
<g transform="translate(1463.5,571.8) rotate(-90)"><text x="0" y="0" font-size="33.3"><tspan font-style="italic">J</tspan><tspan font-size="22.3" dy="8.2">SC</tspan><tspan dy="-8.2"> (nA/cm</tspan><tspan font-size="22.3" dy="-13.5">2</tspan><tspan dy="13.5">)</tspan></text></g>
<path d="M1602.20,671.50 L1604.09,671.53 L1605.98,671.56 L1607.87,671.59 L1609.77,671.63 L1611.66,671.66 L1613.55,671.69 L1615.44,671.72 L1617.33,671.75 L1619.22,671.78 L1621.11,671.81 L1623.00,671.84 L1624.89,671.87 L1626.79,671.89 L1628.68,671.92 L1630.57,671.95 L1632.46,671.98 L1634.35,672.00 L1636.24,672.03 L1638.13,672.05 L1640.02,672.08 L1641.91,672.10 L1643.81,672.13 L1645.70,672.15 L1647.59,672.17 L1649.48,672.19 L1651.37,672.21 L1653.26,672.23 L1655.15,672.25 L1657.04,672.26 L1658.93,672.28 L1660.83,672.29 L1662.72,672.31 L1664.61,672.32 L1666.50,672.33 L1668.39,672.35 L1670.28,672.36 L1672.17,672.37 L1674.06,672.37 L1675.95,672.38 L1677.85,672.39 L1679.74,672.39 L1681.63,672.40 L1683.52,672.40 L1685.41,672.40 L1687.30,672.40 L1689.19,672.40 L1691.08,672.40 L1692.97,672.40 L1694.86,672.39 L1696.76,672.39 L1698.65,672.38 L1700.54,672.37 L1702.43,672.37 L1704.32,672.36 L1706.21,672.35 L1708.10,672.33 L1709.99,672.32 L1711.88,672.31 L1713.78,672.29 L1715.67,672.28 L1717.56,672.26 L1719.45,672.25 L1721.34,672.23 L1723.23,672.21 L1725.12,672.19 L1727.01,672.17 L1728.90,672.15 L1730.80,672.13 L1732.69,672.10 L1734.58,672.08 L1736.47,672.05 L1738.36,672.03 L1740.25,672.00 L1742.14,671.98 L1744.03,671.95 L1745.92,671.92 L1747.82,671.89 L1749.71,671.87 L1751.60,671.84 L1753.49,671.81 L1755.38,671.78 L1757.27,671.75 L1759.16,671.72 L1761.05,671.69 L1762.94,671.66 L1764.84,671.63 L1766.73,671.59 L1768.62,671.56 L1770.51,671.53 L1772.40,671.50 L1774.29,671.47 L1776.18,671.44 L1778.07,671.41 L1779.96,671.37 L1781.86,671.34 L1783.75,671.31 L1785.64,671.28 L1787.53,671.25 L1789.42,671.22 L1791.31,671.19 L1793.20,671.16 L1795.09,671.13 L1796.98,671.11 L1798.88,671.08 L1800.77,671.05 L1802.66,671.02 L1804.55,671.00 L1806.44,670.97 L1808.33,670.95 L1810.22,670.92 L1812.11,670.90 L1814.00,670.87 L1815.90,670.85 L1817.79,670.83 L1819.68,670.81 L1821.57,670.79 L1823.46,670.77 L1825.35,670.75 L1827.24,670.74 L1829.13,670.72 L1831.02,670.71 L1832.92,670.69 L1834.81,670.68 L1836.70,670.67 L1838.59,670.65 L1840.48,670.64 L1842.37,670.63 L1844.26,670.63 L1846.15,670.62 L1848.04,670.61 L1849.94,670.61 L1851.83,670.60 L1853.72,670.60 L1855.61,670.60 L1857.50,670.60 L1859.39,670.60 L1861.28,670.60 L1863.17,670.60 L1865.06,670.61 L1866.96,670.61 L1868.85,670.62 L1870.74,670.63 L1872.63,670.63 L1874.52,670.64 L1876.41,670.65 L1878.30,670.67 L1880.19,670.68 L1882.08,670.69 L1883.97,670.71 L1885.87,670.72 L1887.76,670.74 L1889.65,670.75 L1891.54,670.77 L1893.43,670.79 L1895.32,670.81 L1897.21,670.83 L1899.10,670.85 L1900.99,670.87 L1902.89,670.90 L1904.78,670.92 L1906.67,670.95 L1908.56,670.97 L1910.45,671.00 L1912.34,671.02 L1914.23,671.05 L1916.12,671.08 L1918.01,671.11 L1919.91,671.13 L1921.80,671.16 L1923.69,671.19 L1925.58,671.22 L1927.47,671.25 L1929.36,671.28 L1931.25,671.31 L1933.14,671.34 L1935.03,671.37 L1936.93,671.41 L1938.82,671.44 L1940.71,671.47 L1942.60,671.50" fill="none" stroke="#4caf50" stroke-width="3.6"/>
<path d="M1602.20,392.90 L1603.15,394.04 L1604.09,395.18 L1605.04,396.32 L1605.98,397.46 L1606.93,398.59 L1607.87,399.72 L1608.82,400.84 L1609.77,401.97 L1610.71,403.08 L1611.66,404.20 L1612.60,405.30 L1613.55,406.41 L1614.49,407.50 L1615.44,408.59 L1616.38,409.68 L1617.33,410.76 L1618.28,411.83 L1619.22,412.89 L1620.17,413.95 L1621.11,415.00 L1622.06,416.04 L1623.00,417.07 L1623.95,418.10 L1624.89,419.11 L1625.84,420.12 L1626.79,421.11 L1627.73,422.10 L1628.68,423.08 L1629.62,424.04 L1630.57,425.00 L1631.51,425.95 L1632.46,426.88 L1633.40,427.80 L1634.35,428.71 L1635.30,429.61 L1636.24,430.50 L1637.19,431.38 L1638.13,432.24 L1639.08,433.09 L1640.02,433.93 L1640.97,434.75 L1641.91,435.56 L1642.86,436.36 L1643.81,437.15 L1644.75,437.92 L1645.70,438.67 L1646.64,439.41 L1647.59,440.14 L1648.53,440.85 L1649.48,441.55 L1650.42,442.23 L1651.37,442.90 L1652.32,443.55 L1653.26,444.19 L1654.21,444.81 L1655.15,445.41 L1656.10,446.00 L1657.04,446.58 L1657.99,447.13 L1658.93,447.67 L1659.88,448.20 L1660.83,448.71 L1661.77,449.20 L1662.72,449.67 L1663.66,450.13 L1664.61,450.57 L1665.55,450.99 L1666.50,451.40 L1667.44,451.78 L1668.39,452.15 L1669.34,452.51 L1670.28,452.84 L1671.23,453.16 L1672.17,453.46 L1673.12,453.74 L1674.06,454.01 L1675.01,454.25 L1675.95,454.48 L1676.90,454.69 L1677.85,454.88 L1678.79,455.06 L1679.74,455.21 L1680.68,455.35 L1681.63,455.47 L1682.57,455.57 L1683.52,455.65 L1684.46,455.72 L1685.41,455.76 L1686.35,455.79 L1687.30,455.80 L1688.25,455.79 L1689.19,455.76 L1690.14,455.72 L1691.08,455.65 L1692.03,455.57 L1692.97,455.47 L1693.92,455.35 L1694.86,455.21 L1695.81,455.06 L1696.76,454.88 L1697.70,454.69 L1698.65,454.48 L1699.59,454.25 L1700.54,454.01 L1701.48,453.74 L1702.43,453.46 L1703.37,453.16 L1704.32,452.84 L1705.27,452.51 L1706.21,452.15 L1707.16,451.78 L1708.10,451.40 L1709.05,450.99 L1709.99,450.57 L1710.94,450.13 L1711.88,449.67 L1712.83,449.20 L1713.78,448.71 L1714.72,448.20 L1715.67,447.67 L1716.61,447.13 L1717.56,446.58 L1718.50,446.00 L1719.45,445.41 L1720.39,444.81 L1721.34,444.19 L1722.29,443.55 L1723.23,442.90 L1724.18,442.23 L1725.12,441.55 L1726.07,440.85 L1727.01,440.14 L1727.96,439.41 L1728.90,438.67 L1729.85,437.92 L1730.80,437.15 L1731.74,436.36 L1732.69,435.56 L1733.63,434.75 L1734.58,433.93 L1735.52,433.09 L1736.47,432.24 L1737.41,431.38 L1738.36,430.50 L1739.31,429.61 L1740.25,428.71 L1741.20,427.80 L1742.14,426.88 L1743.09,425.95 L1744.03,425.00 L1744.98,424.04 L1745.92,423.08 L1746.87,422.10 L1747.82,421.11 L1748.76,420.12 L1749.71,419.11 L1750.65,418.10 L1751.60,417.07 L1752.54,416.04 L1753.49,415.00 L1754.43,413.95 L1755.38,412.89 L1756.33,411.83 L1757.27,410.76 L1758.22,409.68 L1759.16,408.59 L1760.11,407.50 L1761.05,406.41 L1762.00,405.30 L1762.94,404.20 L1763.89,403.08 L1764.84,401.97 L1765.78,400.84 L1766.73,399.72 L1767.67,398.59 L1768.62,397.46 L1769.56,396.32 L1770.51,395.18 L1771.45,394.04 L1772.40,392.90 L1773.35,391.76 L1774.29,390.61 L1775.24,389.46 L1776.18,388.32 L1777.13,387.17 L1778.07,386.02 L1779.02,384.88 L1779.96,383.73 L1780.91,382.59 L1781.86,381.45 L1782.80,380.31 L1783.75,379.17 L1784.69,378.03 L1785.64,376.90 L1786.58,375.77 L1787.53,374.65 L1788.47,373.53 L1789.42,372.41 L1790.37,371.30 L1791.31,370.19 L1792.26,369.09 L1793.20,368.00 L1794.15,366.91 L1795.09,365.83 L1796.04,364.75 L1796.98,363.69 L1797.93,362.63 L1798.88,361.58 L1799.82,360.53 L1800.77,359.50 L1801.71,358.48 L1802.66,357.46 L1803.60,356.45 L1804.55,355.46 L1805.49,354.48 L1806.44,353.50 L1807.39,352.54 L1808.33,351.59 L1809.28,350.65 L1810.22,349.72 L1811.17,348.81 L1812.11,347.91 L1813.06,347.02 L1814.00,346.15 L1814.95,345.28 L1815.90,344.44 L1816.84,343.61 L1817.79,342.79 L1818.73,341.99 L1819.68,341.20 L1820.62,340.43 L1821.57,339.67 L1822.51,338.93 L1823.46,338.21 L1824.41,337.50 L1825.35,336.81 L1826.30,336.14 L1827.24,335.48 L1828.19,334.85 L1829.13,334.23 L1830.08,333.62 L1831.02,333.04 L1831.97,332.47 L1832.92,331.93 L1833.86,331.40 L1834.81,330.89 L1835.75,330.40 L1836.70,329.93 L1837.64,329.48 L1838.59,329.05 L1839.53,328.64 L1840.48,328.25 L1841.43,327.88 L1842.37,327.53 L1843.32,327.21 L1844.26,326.90 L1845.21,326.61 L1846.15,326.34 L1847.10,326.10 L1848.04,325.87 L1848.99,325.67 L1849.94,325.49 L1850.88,325.33 L1851.83,325.19 L1852.77,325.07 L1853.72,324.97 L1854.66,324.90 L1855.61,324.84 L1856.55,324.81 L1857.50,324.80 L1858.45,324.81 L1859.39,324.84 L1860.34,324.90 L1861.28,324.97 L1862.23,325.07 L1863.17,325.19 L1864.12,325.33 L1865.06,325.49 L1866.01,325.67 L1866.96,325.87 L1867.90,326.10 L1868.85,326.34 L1869.79,326.61 L1870.74,326.90 L1871.68,327.21 L1872.63,327.53 L1873.57,327.88 L1874.52,328.25 L1875.46,328.64 L1876.41,329.05 L1877.36,329.48 L1878.30,329.93 L1879.25,330.40 L1880.19,330.89 L1881.14,331.40 L1882.08,331.93 L1883.03,332.47 L1883.97,333.04 L1884.92,333.62 L1885.87,334.23 L1886.81,334.85 L1887.76,335.48 L1888.70,336.14 L1889.65,336.81 L1890.59,337.50 L1891.54,338.21 L1892.48,338.93 L1893.43,339.67 L1894.38,340.43 L1895.32,341.20 L1896.27,341.99 L1897.21,342.79 L1898.16,343.61 L1899.10,344.44 L1900.05,345.28 L1900.99,346.15 L1901.94,347.02 L1902.89,347.91 L1903.83,348.81 L1904.78,349.72 L1905.72,350.65 L1906.67,351.59 L1907.61,352.54 L1908.56,353.50 L1909.50,354.48 L1910.45,355.46 L1911.40,356.45 L1912.34,357.46 L1913.29,358.48 L1914.23,359.50 L1915.18,360.53 L1916.12,361.58 L1917.07,362.63 L1918.01,363.69 L1918.96,364.75 L1919.91,365.83 L1920.85,366.91 L1921.80,368.00 L1922.74,369.09 L1923.69,370.19 L1924.63,371.30 L1925.58,372.41 L1926.52,373.53 L1927.47,374.65 L1928.42,375.77 L1929.36,376.90 L1930.31,378.03 L1931.25,379.17 L1932.20,380.31 L1933.14,381.45 L1934.09,382.59 L1935.03,383.73 L1935.98,384.88 L1936.93,386.02 L1937.87,387.17 L1938.82,388.32 L1939.76,389.46 L1940.71,390.61 L1941.65,391.76 L1942.60,392.90" fill="none" stroke="#e01e1e" stroke-width="3.8" stroke-linejoin="round"/>
<circle cx="1602.20" cy="392.8" r="4.5" fill="#fff" stroke="#0000ff" stroke-width="2"/>
<circle cx="1630.57" cy="428.9" r="4.5" fill="#fff" stroke="#0000ff" stroke-width="2"/>
<circle cx="1658.93" cy="448.6" r="4.5" fill="#fff" stroke="#0000ff" stroke-width="2"/>
<circle cx="1687.30" cy="451.7" r="4.5" fill="#fff" stroke="#0000ff" stroke-width="2"/>
<circle cx="1715.67" cy="427.6" r="4.5" fill="#fff" stroke="#0000ff" stroke-width="2"/>
<circle cx="1744.03" cy="416.6" r="4.5" fill="#fff" stroke="#0000ff" stroke-width="2"/>
<circle cx="1772.40" cy="392.9" r="4.5" fill="#fff" stroke="#0000ff" stroke-width="2"/>
<circle cx="1800.77" cy="357.3" r="4.5" fill="#fff" stroke="#0000ff" stroke-width="2"/>
<circle cx="1829.13" cy="331.5" r="4.5" fill="#fff" stroke="#0000ff" stroke-width="2"/>
<circle cx="1857.50" cy="320.1" r="4.5" fill="#fff" stroke="#0000ff" stroke-width="2"/>
<circle cx="1885.87" cy="334.0" r="4.5" fill="#fff" stroke="#0000ff" stroke-width="2"/>
<circle cx="1914.23" cy="359.3" r="4.5" fill="#fff" stroke="#0000ff" stroke-width="2"/>
<circle cx="1942.60" cy="392.9" r="4.5" fill="#fff" stroke="#0000ff" stroke-width="2"/>
<polygon points="1689.20,664.30 1689.20,492.20 1698.05,492.20 1687.30,465.20 1676.55,492.20 1685.40,492.20 1685.40,664.30" fill="#4b0c9c" />
<text x="1601.5" y="280.6" font-size="33" letter-spacing="0.3"><tspan font-style="italic">N</tspan><tspan font-size="21.5" dy="8">DWs</tspan><tspan dy="-8">= 2, </tspan><tspan font-style="italic">d</tspan><tspan font-size="21.5" dy="8">DWs</tspan><tspan dy="-8">= 300 nm</tspan></text>
<circle cx="1742.4" cy="526.9" r="4.6" fill="#fff" stroke="#0000ff" stroke-width="2"/>
<text x="1779.00" y="536.10" font-size="26.5" fill="#000" text-anchor="start" font-weight="normal" font-style="normal" >Reference data</text>
<line x1="1713" y1="559.8" x2="1772" y2="559.8" stroke="#e01e1e" stroke-width="3.6"/>
<text x="1778" y="571.5" font-size="27.5"><tspan font-style="italic">&#946;</tspan><tspan font-size="18.5" dy="6">ijk</tspan><tspan dy="-6"> (</tspan><tspan font-style="italic">f</tspan><tspan font-size="18.5" dy="6">grad</tspan><tspan dy="-6">)</tspan></text>
<line x1="1713" y1="599" x2="1772" y2="599" stroke="#4caf50" stroke-width="3.6"/>
<text x="1779" y="608.1" font-size="26.8">Constant <tspan font-style="italic">&#946;</tspan><tspan font-size="18.5" dy="6">ijk</tspan></text>
</svg>
</body></html>
